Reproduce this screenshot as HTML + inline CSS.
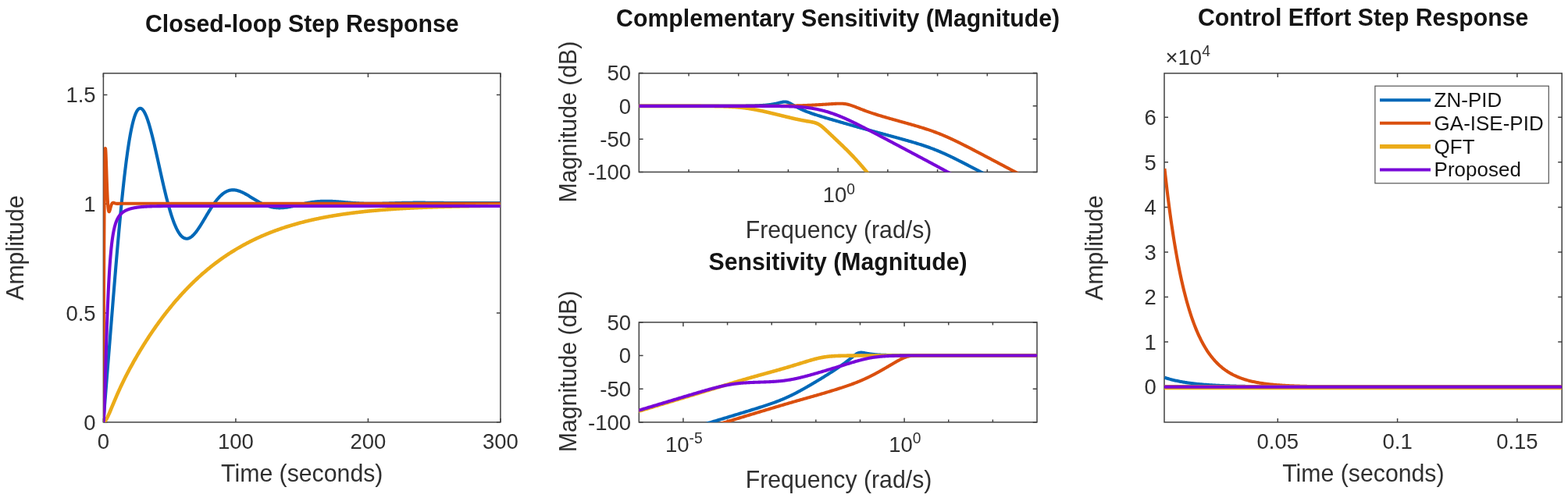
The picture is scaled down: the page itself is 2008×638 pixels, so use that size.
<!DOCTYPE html>
<html><head><meta charset="utf-8"><style>
html,body{margin:0;padding:0;background:#fff;}
svg{display:block;font-family:"Liberation Sans",Arial,Helvetica,sans-serif;}
</style></head><body>
<svg width="2008" height="638" viewBox="0 0 2008 638">
<defs><clipPath id="c1"><rect x="132.4" y="93.9" width="508.5" height="447.0"/></clipPath><clipPath id="c2"><rect x="818.3" y="93.9" width="509.70000000000005" height="126.5"/></clipPath><clipPath id="c3"><rect x="818.3" y="412.9" width="509.70000000000005" height="128.0"/></clipPath><clipPath id="c4"><rect x="1491" y="93.9" width="509.20000000000005" height="447.0"/></clipPath></defs>
<rect width="2008" height="638" fill="#fff"/>
<path d="M132.4 540.9V535.9M132.4 93.9V98.9M301.9 540.9V535.9M301.9 93.9V98.9M471.4 540.9V535.9M471.4 93.9V98.9M640.9 540.9V535.9M640.9 93.9V98.9M132.4 540.8H137.4M640.9 540.8H635.9M132.4 401H137.4M640.9 401H635.9M132.4 261.2H137.4M640.9 261.2H635.9M132.4 121.4H137.4M640.9 121.4H635.9" stroke="#424242" stroke-width="1.5" fill="none"/>
<rect x="132.4" y="93.9" width="508.5" height="447" fill="none" stroke="#424242" stroke-width="1.5"/>
<polyline points="132.4,540.8 132.57,538.5 132.74,536.22 132.91,533.95 133.08,531.7 133.25,529.46 133.42,527.24 133.59,525.03 133.76,522.82 133.93,520.63 134.09,518.45 134.26,516.27 134.43,514.11 134.6,511.95 134.77,509.79 134.94,507.65 135.11,505.5 135.28,503.37 135.45,501.23 135.62,499.11 135.79,496.98 135.96,494.86 136.13,492.74 136.3,490.62 136.47,488.51 136.64,486.4 136.81,484.28 136.98,482.18 137.15,480.07 137.32,477.96 137.49,475.85 137.65,473.75 137.82,471.64 137.99,469.54 138.16,467.43 138.33,465.33 138.5,463.22 138.67,461.12 138.84,459.01 139.01,456.9 139.18,454.8 139.35,452.69 139.52,450.58 139.69,448.48 139.86,446.37 140.03,444.26 140.2,442.15 140.37,440.04 140.54,437.94 140.71,435.83 140.88,433.72 141.04,431.61 141.21,429.5 141.38,427.39 141.55,425.28 141.72,423.16 141.89,421.05 142.06,418.94 142.23,416.83 142.4,414.72 142.57,412.62 142.74,410.51 142.91,408.4 143.08,406.29 143.25,404.18 143.42,402.08 143.59,399.97 143.76,397.87 143.93,395.77 144.1,393.67 144.27,391.57 144.43,389.47 144.6,387.37 144.77,385.28 144.94,383.18 145.11,381.09 145.28,379.01 145.45,376.92 145.62,374.84 145.79,372.75 145.96,370.68 146.13,368.6 146.3,366.53 146.47,364.46 146.64,362.39 146.81,360.33 146.98,358.27 147.15,356.21 147.32,354.16 147.49,352.11 147.66,350.07 147.82,348.03 147.99,345.99 148.16,343.96 148.33,341.94 148.5,339.92 148.67,337.9 148.84,335.89 149.01,333.88 149.18,331.88 149.35,329.88 149.52,327.89 149.69,325.9 149.86,323.92 150.03,321.95 150.2,319.98 150.37,318.02 150.54,316.07 150.71,314.12 150.88,312.17 151.05,310.24 151.21,308.31 151.38,306.39 151.55,304.47 151.72,302.56 151.89,300.66 152.06,298.77 152.23,296.88 152.4,295.01 152.57,293.13 152.74,291.27 152.91,289.42 153.08,287.57 153.25,285.73 153.42,283.9 153.59,282.08 153.76,280.27 153.93,278.46 154.1,276.66 154.27,274.88 154.44,273.1 154.6,271.33 154.77,269.57 154.94,267.82 155.11,266.07 155.28,264.34 155.45,262.62 155.62,260.91 155.79,259.2 155.96,257.51 156.13,255.82 156.3,254.15 156.47,252.49 156.64,250.83 156.81,249.19 156.98,247.55 157.15,245.93 157.32,244.32 157.49,242.72 157.66,241.13 157.83,239.55 157.99,237.98 158.16,236.42 158.33,234.87 158.5,233.33 158.67,231.81 158.84,230.29 159.01,228.79 159.18,227.3 159.35,225.82 159.52,224.35 159.69,222.89 159.86,221.44 160.03,220.01 160.2,218.58 160.37,217.17 160.54,215.77 160.71,214.39 160.88,213.01 161.05,211.65 161.22,210.29 161.38,208.95 161.55,207.63 161.72,206.31 161.89,205.01 162.06,203.72 162.23,202.44 162.4,201.17 162.57,199.92 162.74,198.68 162.91,197.45 163.08,196.23 163.25,195.03 163.42,193.84 163.59,192.66 163.76,191.49 163.93,190.34 164.1,189.2 164.27,188.07 164.44,186.95 164.61,185.85 164.77,184.76 164.94,183.68 165.11,182.62 165.28,181.57 165.45,180.53 165.62,179.5 165.79,178.49 165.96,177.49 166.13,176.5 166.3,175.53 166.47,174.57 166.64,173.62 166.81,172.69 166.98,171.76 167.15,170.85 167.32,169.96 167.49,169.08 167.66,168.21 167.83,167.35 168,166.51 168.16,165.67 168.33,164.86 168.5,164.05 168.67,163.26 168.84,162.48 169.01,161.72 169.18,160.96 169.35,160.22 169.52,159.5 169.69,158.78 169.86,158.08 170.03,157.4 170.2,156.72 170.37,156.06 170.54,155.41 170.71,154.78 170.88,154.15 171.05,153.54 171.22,152.95 171.38,152.36 171.55,151.79 171.72,151.23 171.89,150.68 172.06,150.15 172.23,149.63 172.4,149.12 172.57,148.63 172.74,148.15 172.91,147.68 173.08,147.22 173.25,146.77 173.42,146.34 173.59,145.92 173.76,145.51 173.93,145.12 174.1,144.74 174.27,144.37 174.44,144.01 174.61,143.66 174.78,143.33 174.94,143.01 175.11,142.7 175.28,142.4 175.45,142.12 175.62,141.85 175.79,141.58 175.96,141.34 176.13,141.1 176.3,140.87 176.47,140.66 176.64,140.46 176.81,140.27 176.98,140.09 177.15,139.92 177.32,139.77 177.49,139.63 177.66,139.49 177.83,139.37 178,139.26 178.17,139.17 178.33,139.08 178.5,139 178.67,138.94 178.84,138.88 179.01,138.84 179.18,138.81 179.35,138.79 179.52,138.78 179.69,138.78 179.86,138.79 180.03,138.82 180.2,138.85 180.37,138.89 180.54,138.95 180.71,139.01 180.88,139.09 181.05,139.17 181.22,139.27 181.39,139.37 181.56,139.49 181.72,139.61 181.89,139.75 182.06,139.89 182.23,140.05 182.4,140.21 182.57,140.39 182.74,140.57 182.91,140.76 183.08,140.97 183.25,141.18 184.1,142.38 184.94,143.8 185.79,145.44 186.64,147.28 187.49,149.32 188.34,151.54 189.18,153.94 190.03,156.5 190.88,159.22 191.73,162.08 192.57,165.08 193.42,168.2 194.27,171.44 195.12,174.78 195.96,178.21 196.81,181.73 197.66,185.32 198.5,188.97 199.35,192.68 200.2,196.43 201.05,200.22 201.9,204.03 202.74,207.86 203.59,211.69 204.44,215.53 205.29,219.36 206.13,223.17 206.98,226.95 207.83,230.71 208.68,234.42 209.52,238.09 210.37,241.7 211.22,245.26 212.06,248.75 212.91,252.16 213.76,255.5 214.61,258.76 215.46,261.93 216.3,265.01 217.15,267.99 218,270.88 218.84,273.66 219.69,276.34 220.54,278.9 221.39,281.36 222.24,283.7 223.08,285.93 223.93,288.03 224.78,290.02 225.62,291.89 226.47,293.64 227.32,295.27 228.17,296.78 229.01,298.17 229.86,299.43 230.71,300.58 231.56,301.61 232.41,302.51 233.25,303.31 234.1,303.98 234.95,304.54 235.8,305 236.64,305.34 237.49,305.57 238.34,305.7 239.19,305.73 240.03,305.66 240.88,305.49 241.73,305.23 242.57,304.88 243.42,304.44 244.27,303.91 245.12,303.31 245.97,302.63 246.81,301.88 247.66,301.06 248.51,300.17 249.36,299.22 250.2,298.21 251.05,297.15 251.9,296.04 252.75,294.88 253.59,293.68 254.44,292.44 255.29,291.16 256.13,289.85 256.98,288.51 257.83,287.15 258.68,285.77 259.52,284.38 260.37,282.96 261.22,281.54 262.07,280.11 262.91,278.68 263.76,277.25 264.61,275.82 265.46,274.4 266.31,272.99 267.15,271.58 268,270.2 268.85,268.82 269.69,267.47 270.54,266.14 271.39,264.84 272.24,263.56 273.09,262.31 273.93,261.09 274.78,259.9 275.63,258.74 276.48,257.62 277.32,256.54 278.17,255.5 279.02,254.49 279.87,253.53 280.71,252.6 281.56,251.72 282.41,250.88 283.25,250.09 284.1,249.34 284.95,248.63 285.8,247.97 286.64,247.35 287.49,246.78 288.34,246.26 289.19,245.78 290.03,245.34 290.88,244.95 291.73,244.6 292.58,244.29 293.43,244.03 294.27,243.81 295.12,243.63 295.97,243.5 296.81,243.4 297.66,243.34 298.51,243.32 299.36,243.34 300.21,243.4 301.05,243.48 301.9,243.61 302.75,243.76 303.6,243.95 304.44,244.16 305.29,244.41 306.14,244.68 306.99,244.98 307.83,245.3 308.68,245.65 309.53,246.02 310.38,246.41 311.22,246.82 312.07,247.24 312.92,247.68 313.76,248.14 314.61,248.61 315.46,249.09 316.31,249.58 317.15,250.09 318,250.6 318.85,251.11 319.7,251.63 320.55,252.16 321.39,252.69 322.24,253.22 323.09,253.75 323.94,254.27 324.78,254.8 325.63,255.32 326.48,255.84 327.33,256.36 328.17,256.87 329.02,257.37 329.87,257.86 330.72,258.35 331.56,258.82 332.41,259.29 333.26,259.74 334.11,260.18 334.95,260.61 335.8,261.02 336.65,261.43 337.5,261.82 338.34,262.19 339.19,262.55 340.04,262.89 340.88,263.22 341.73,263.53 342.58,263.83 343.43,264.11 344.27,264.37 345.12,264.62 345.97,264.85 346.82,265.06 347.66,265.25 348.51,265.43 349.36,265.6 350.21,265.74 351.06,265.87 351.9,265.99 352.75,266.08 353.6,266.17 354.44,266.23 355.29,266.28 356.14,266.32 356.99,266.34 357.84,266.35 358.68,266.34 359.53,266.32 360.38,266.29 361.23,266.24 362.07,266.19 362.92,266.12 363.77,266.04 364.62,265.95 365.46,265.84 366.31,265.73 367.16,265.61 368,265.48 368.85,265.35 369.7,265.2 370.55,265.05 371.39,264.89 372.24,264.72 373.09,264.55 373.94,264.38 374.78,264.2 375.63,264.01 376.48,263.83 377.33,263.64 378.18,263.44 379.02,263.25 379.87,263.05 380.72,262.85 381.56,262.65 382.41,262.46 383.26,262.26 384.11,262.06 384.96,261.86 385.8,261.67 386.65,261.48 387.5,261.28 388.35,261.1 389.19,260.91 390.04,260.73 390.89,260.55 391.74,260.38 392.58,260.21 393.43,260.04 394.28,259.88 395.12,259.72 395.97,259.57 396.82,259.42 397.67,259.28 398.51,259.15 399.36,259.02 400.21,258.89 401.06,258.77 401.9,258.66 402.75,258.56 403.6,258.46 404.45,258.36 405.29,258.27 406.14,258.19 406.99,258.12 407.84,258.05 408.69,257.99 409.53,257.93 410.38,257.88 411.23,257.84 412.08,257.8 412.92,257.76 413.77,257.74 414.62,257.72 415.47,257.7 416.31,257.69 417.16,257.69 418.01,257.69 418.86,257.69 419.7,257.7 420.55,257.72 421.4,257.74 422.25,257.76 423.09,257.79 423.94,257.82 424.79,257.86 425.63,257.9 426.48,257.94 427.33,257.99 428.18,258.04 429.02,258.09 429.87,258.15 430.72,258.2 431.57,258.26 432.41,258.33 433.26,258.39 434.11,258.46 434.96,258.52 435.8,258.59 436.65,258.66 437.5,258.73 438.35,258.81 439.2,258.88 440.04,258.95 440.89,259.02 441.74,259.1 442.59,259.17 443.43,259.24 444.28,259.31 445.13,259.39 445.98,259.46 446.82,259.53 447.67,259.6 448.52,259.66 449.37,259.73 450.21,259.8 451.06,259.86 451.91,259.92 452.75,259.99 453.6,260.05 454.45,260.1 455.3,260.16 456.14,260.21 456.99,260.27 457.84,260.32 458.69,260.36 459.53,260.41 460.38,260.45 461.23,260.49 462.08,260.53 462.92,260.57 463.77,260.6 464.62,260.64 465.47,260.67 466.32,260.69 467.16,260.72 468.01,260.74 468.86,260.76 469.71,260.78 470.55,260.8 471.4,260.81 472.25,260.82 473.1,260.83 473.94,260.84 474.79,260.85 475.64,260.85 476.49,260.85 477.33,260.85 478.18,260.85 479.03,260.84 479.88,260.84 480.72,260.83 481.57,260.82 482.42,260.81 483.26,260.8 484.11,260.78 484.96,260.77 485.81,260.75 486.65,260.74 487.5,260.72 488.35,260.7 489.2,260.68 490.04,260.65 490.89,260.63 491.74,260.61 492.59,260.58 493.44,260.56 494.28,260.53 495.13,260.51 495.98,260.48 496.83,260.45 497.67,260.43 498.52,260.4 499.37,260.37 500.22,260.34 501.06,260.32 501.91,260.29 502.76,260.26 503.61,260.23 504.45,260.21 505.3,260.18 506.15,260.15 507,260.13 507.84,260.1 508.69,260.08 509.54,260.05 510.38,260.03 511.23,260 512.08,259.98 512.93,259.96 513.77,259.93 514.62,259.91 515.47,259.89 516.32,259.87 517.16,259.85 518.01,259.83 518.86,259.82 519.71,259.8 520.55,259.78 521.4,259.77 522.25,259.76 523.1,259.74 523.95,259.73 524.79,259.72 525.64,259.71 526.49,259.7 527.34,259.69 528.18,259.68 529.03,259.67 529.88,259.67 530.73,259.66 531.57,259.66 532.42,259.65 533.27,259.65 534.12,259.65 534.96,259.64 535.81,259.64 536.66,259.64 537.5,259.64 538.35,259.64 539.2,259.65 540.05,259.65 540.89,259.65 541.74,259.66 542.59,259.66 543.44,259.66 544.28,259.67 545.13,259.68 545.98,259.68 546.83,259.69 547.67,259.7 548.52,259.7 549.37,259.71 550.22,259.72 551.07,259.73 551.91,259.74 552.76,259.74 553.61,259.75 554.46,259.76 555.3,259.77 556.15,259.78 557,259.79 557.85,259.8 558.69,259.81 559.54,259.82 560.39,259.83 561.24,259.84 562.08,259.85 562.93,259.86 563.78,259.87 564.62,259.88 565.47,259.89 566.32,259.9 567.17,259.91 568.01,259.92 568.86,259.93 569.71,259.94 570.56,259.95 571.4,259.95 572.25,259.96 573.1,259.97 573.95,259.98 574.79,259.99 575.64,259.99 576.49,260 577.34,260.01 578.19,260.01 579.03,260.02 579.88,260.03 580.73,260.03 581.58,260.04 582.42,260.04 583.27,260.04 584.12,260.05 584.97,260.05 585.81,260.06 586.66,260.06 587.51,260.06 588.36,260.07 589.2,260.07 590.05,260.07 590.9,260.07 591.75,260.07 592.59,260.07 593.44,260.07 594.29,260.07 595.13,260.07 595.98,260.07 596.83,260.07 597.68,260.07 598.52,260.07 599.37,260.07 600.22,260.07 601.07,260.07 601.91,260.07 602.76,260.07 603.61,260.06 604.46,260.06 605.3,260.06 606.15,260.06 607,260.05 607.85,260.05 608.7,260.05 609.54,260.04 610.39,260.04 611.24,260.04 612.09,260.03 612.93,260.03 613.78,260.03 614.63,260.02 615.48,260.02 616.32,260.02 617.17,260.01 618.02,260.01 618.87,260 619.71,260 620.56,260 621.41,259.99 622.25,259.99 623.1,259.99 623.95,259.98 624.8,259.98 625.64,259.97 626.49,259.97 627.34,259.97 628.19,259.96 629.03,259.96 629.88,259.96 630.73,259.95 631.58,259.95 632.42,259.95 633.27,259.94 634.12,259.94 634.97,259.94 635.82,259.94 636.66,259.93 637.51,259.93 638.36,259.93 639.21,259.93 640.05,259.92 640.9,259.92" fill="none" stroke="#0068B8" stroke-width="4.1" stroke-linejoin="round" stroke-linecap="butt" clip-path="url(#c1)"/>
<polyline points="132.4,540.8 132.48,511.01 132.57,482.96 132.65,456.6 132.74,431.87 132.82,408.72 132.91,387.09 132.99,366.93 133.08,348.18 133.16,330.8 133.25,314.72 133.33,299.89 133.42,286.27 133.5,273.78 133.59,262.4 133.67,252.05 133.76,242.7 133.84,234.29 133.93,226.78 134.01,220.11 134.09,214.24 134.18,209.13 134.26,204.72 134.35,200.98 134.43,197.86 134.52,195.33 134.6,193.34 134.69,191.85 134.77,190.83 134.86,190.24 134.94,190.04 135.03,190.21 135.11,190.71 135.2,191.52 135.28,192.59 135.37,193.91 135.45,195.44 135.54,197.17 135.62,199.07 135.71,201.11 135.79,203.28 135.87,205.55 135.96,207.9 136.04,210.33 136.13,212.81 136.21,215.32 136.3,217.86 136.38,220.41 136.47,222.95 136.55,225.48 136.64,227.98 136.72,230.45 136.81,232.88 136.89,235.26 136.98,237.59 137.06,239.85 137.15,242.04 137.23,244.17 137.32,246.21 137.4,248.18 137.49,250.07 137.57,251.87 137.65,253.59 137.74,255.22 137.82,256.76 137.91,258.22 137.99,259.59 138.08,260.87 138.16,262.07 138.25,263.18 138.33,264.21 138.42,265.16 138.5,266.03 138.59,266.82 138.67,267.54 138.76,268.18 138.84,268.75 138.93,269.26 139.01,269.7 139.1,270.08 139.18,270.39 139.26,270.65 139.35,270.86 139.43,271.02 139.52,271.12 139.6,271.19 139.69,271.21 139.77,271.19 139.86,271.13 139.94,271.04 140.03,270.92 140.11,270.77 140.2,270.6 140.28,270.4 140.37,270.18 140.45,269.94 140.54,269.68 140.62,269.41 140.71,269.13 140.79,268.83 140.88,268.53 140.96,268.22 141.04,267.9 141.13,267.58 141.21,267.26 141.3,266.93 141.38,266.61 141.47,266.29 141.55,265.97 141.64,265.65 141.72,265.34 141.81,265.03 141.89,264.73 141.98,264.44 142.06,264.15 142.15,263.87 142.23,263.6 142.32,263.34 142.4,263.09 142.49,262.85 142.57,262.61 142.65,262.39 142.74,262.18 142.82,261.97 142.91,261.78 142.99,261.6 143.08,261.42 143.16,261.26 143.25,261.11 143.33,260.97 143.42,260.83 143.5,260.71 143.59,260.59 143.67,260.49 143.76,260.39 143.84,260.3 143.93,260.22 144.01,260.15 144.1,260.08 144.18,260.03 144.27,259.98 144.35,259.93 144.43,259.9 144.52,259.86 144.6,259.84 144.69,259.82 144.77,259.8 144.86,259.79 144.94,259.79 145.03,259.79 145.11,259.79 145.2,259.8 145.28,259.81 145.37,259.82 145.45,259.83 145.54,259.85 145.62,259.87 145.71,259.89 145.79,259.92 145.88,259.94 145.96,259.97 146.04,260 146.13,260.03 146.21,260.06 146.3,260.09 146.38,260.12 146.47,260.15 146.55,260.18 146.64,260.21 146.72,260.25 146.81,260.28 146.89,260.31 146.98,260.34 147.06,260.37 147.15,260.4 147.23,260.43 147.32,260.46 147.4,260.48 147.49,260.51 147.57,260.53 147.66,260.56 147.74,260.58 147.82,260.61 147.91,260.63 147.99,260.65 148.08,260.67 148.16,260.69 148.25,260.71 148.33,260.72 148.42,260.74 148.5,260.75 148.59,260.77 148.67,260.78 148.76,260.79 148.84,260.8 148.93,260.81 149.01,260.82 149.1,260.83 149.18,260.84 149.27,260.85 149.35,260.85 149.43,260.86 149.52,260.86 149.6,260.87 149.69,260.87 149.77,260.87 149.86,260.88 149.94,260.88 150.03,260.88 150.11,260.88 150.2,260.88 150.28,260.88 150.37,260.88 150.45,260.88 150.54,260.88 150.62,260.88 150.71,260.88 150.79,260.87 150.88,260.87 150.96,260.87 151.05,260.87 151.13,260.86 151.21,260.86 151.3,260.86 151.38,260.86 151.47,260.85 151.55,260.85 151.64,260.85 151.72,260.84 151.81,260.84 151.89,260.84 151.98,260.83 152.06,260.83 152.15,260.83 152.23,260.82 152.32,260.82 152.4,260.82 152.49,260.82 152.57,260.81 152.66,260.81 152.74,260.81 152.82,260.81 152.91,260.8 152.99,260.8 153.08,260.8 153.16,260.8 153.25,260.79 153.33,260.79 153.42,260.79 153.5,260.79 153.59,260.79 153.67,260.78 153.76,260.78 153.84,260.78 153.93,260.78 154.01,260.78 154.1,260.78 154.18,260.78 154.27,260.78 154.35,260.78 154.44,260.77 154.52,260.77 154.6,260.77 154.69,260.77 154.77,260.77 154.86,260.77 154.94,260.77 155.03,260.77 155.11,260.77 155.2,260.77 155.28,260.77 155.37,260.77 155.45,260.77 155.54,260.77 155.62,260.77 155.71,260.77 155.79,260.77 155.88,260.77 155.96,260.77 156.05,260.77 156.13,260.77 156.21,260.77 156.3,260.77 156.38,260.77 156.47,260.77 156.55,260.77 156.64,260.77 156.72,260.77 156.81,260.77 156.89,260.77 156.98,260.77 157.06,260.77 157.15,260.77 157.23,260.78 157.32,260.78 157.4,260.78 157.49,260.78 157.57,260.78 157.66,260.78 157.74,260.78 157.83,260.78 157.91,260.78 157.99,260.78 158.08,260.78 158.16,260.78 158.25,260.78 158.33,260.78 158.42,260.78 158.5,260.78 158.59,260.78 158.67,260.78 158.76,260.78 158.84,260.78 158.93,260.78 159.01,260.78 159.1,260.78 159.18,260.78 159.27,260.78 159.35,260.78 159.44,260.78 159.52,260.78 159.6,260.78 159.69,260.78 159.77,260.78 159.86,260.78 159.94,260.78 160.03,260.78 160.11,260.78 160.2,260.78 160.28,260.78 160.37,260.78 160.45,260.78 160.54,260.78 160.62,260.78 160.71,260.78 160.79,260.78 160.88,260.78 160.96,260.78 161.05,260.78 161.13,260.78 161.22,260.78 161.3,260.78 161.38,260.78 161.47,260.78 161.55,260.78 161.64,260.78 161.72,260.78 161.81,260.78 161.89,260.78 161.98,260.78 162.06,260.78 162.15,260.78 162.23,260.78 162.32,260.78 162.4,260.78 162.49,260.78 162.57,260.78 162.66,260.78 162.74,260.78 162.83,260.78 162.91,260.78 162.99,260.78 163.08,260.78 163.16,260.78 163.25,260.78 163.33,260.78 163.42,260.78 163.5,260.78 163.59,260.78 163.67,260.78 163.76,260.78 163.84,260.78 163.93,260.78 164.01,260.78 164.1,260.78 164.18,260.78 164.27,260.78 164.35,260.78 164.44,260.78 164.52,260.78 164.61,260.78 164.69,260.78 164.77,260.78 164.86,260.78 164.94,260.78 165.03,260.78 165.11,260.78 165.2,260.78 165.28,260.78 165.37,260.78 165.45,260.78 165.54,260.78 165.62,260.78 165.71,260.78 165.79,260.78 165.88,260.78 165.96,260.78 166.05,260.78 166.13,260.78 166.22,260.78 166.3,260.78 167.15,260.78 171.93,260.78 176.72,260.78 181.5,260.78 186.29,260.78 191.07,260.78 195.86,260.78 200.65,260.78 205.43,260.78 210.22,260.78 215,260.78 219.79,260.78 224.57,260.78 229.36,260.78 234.14,260.78 238.93,260.78 243.71,260.78 248.5,260.78 253.28,260.78 258.07,260.78 262.86,260.78 267.64,260.78 272.43,260.78 277.21,260.78 282,260.78 286.78,260.78 291.57,260.78 296.35,260.78 301.14,260.78 305.92,260.78 310.71,260.78 315.49,260.78 320.28,260.78 325.06,260.78 329.85,260.78 334.64,260.78 339.42,260.78 344.21,260.78 348.99,260.78 353.78,260.78 358.56,260.78 363.35,260.78 368.13,260.78 372.92,260.78 377.7,260.78 382.49,260.78 387.27,260.78 392.06,260.78 396.85,260.78 401.63,260.78 406.42,260.78 411.2,260.78 415.99,260.78 420.77,260.78 425.56,260.78 430.34,260.78 435.13,260.78 439.91,260.78 444.7,260.78 449.48,260.78 454.27,260.78 459.06,260.78 463.84,260.78 468.63,260.78 473.41,260.78 478.2,260.78 482.98,260.78 487.77,260.78 492.55,260.78 497.34,260.78 502.12,260.78 506.91,260.78 511.69,260.78 516.48,260.78 521.27,260.78 526.05,260.78 530.84,260.78 535.62,260.78 540.41,260.78 545.19,260.78 549.98,260.78 554.76,260.78 559.55,260.78 564.33,260.78 569.12,260.78 573.9,260.78 578.69,260.78 583.48,260.78 588.26,260.78 593.05,260.78 597.83,260.78 602.62,260.78 607.4,260.78 612.19,260.78 616.97,260.78 621.76,260.78 626.54,260.78 631.33,260.78 636.11,260.78 640.9,260.78" fill="none" stroke="#DA4F0E" stroke-width="4.1" stroke-linejoin="round" stroke-linecap="butt" clip-path="url(#c1)"/>
<polyline points="132.4,540.8 133.25,540.57 134.09,539.94 134.94,538.98 135.79,537.76 136.64,536.32 137.49,534.71 138.33,532.97 139.18,531.13 140.03,529.22 140.88,527.25 141.72,525.24 142.57,523.21 143.42,521.17 144.27,519.13 145.11,517.08 145.96,515.05 146.81,513.04 147.66,511.04 148.5,509.05 149.35,507.09 150.2,505.15 151.05,503.24 151.89,501.34 152.74,499.47 153.59,497.62 154.44,495.8 155.28,493.99 156.13,492.21 156.98,490.45 157.83,488.7 158.67,486.98 159.52,485.27 160.37,483.58 161.22,481.91 162.06,480.26 162.91,478.62 163.76,476.99 164.61,475.38 165.45,473.79 166.3,472.21 167.15,470.64 168,469.09 168.84,467.54 169.69,466.01 170.54,464.5 171.38,462.99 172.23,461.5 173.08,460.01 173.93,458.54 174.78,457.08 175.62,455.62 176.47,454.18 177.32,452.75 178.17,451.33 179.01,449.91 179.86,448.51 180.71,447.12 181.56,445.73 182.4,444.36 183.25,442.99 184.1,441.63 184.94,440.29 185.79,438.95 186.64,437.61 187.49,436.29 188.34,434.98 189.18,433.67 190.03,432.38 190.88,431.09 191.73,429.81 192.57,428.53 193.42,427.27 194.27,426.01 195.12,424.77 195.96,423.53 196.81,422.29 197.66,421.07 198.5,419.85 199.35,418.65 200.2,417.45 201.05,416.25 201.9,415.07 202.74,413.89 203.59,412.72 204.44,411.56 205.29,410.4 206.13,409.26 206.98,408.12 207.83,406.99 208.68,405.86 209.52,404.74 210.37,403.63 211.22,402.53 212.06,401.44 212.91,400.35 213.76,399.27 214.61,398.19 215.46,397.13 216.3,396.07 217.15,395.01 218,393.97 218.84,392.93 219.69,391.9 220.54,390.87 221.39,389.85 222.24,388.84 223.08,387.84 223.93,386.84 224.78,385.85 225.62,384.86 226.47,383.89 227.32,382.91 228.17,381.95 229.01,380.99 229.86,380.04 230.71,379.1 231.56,378.16 232.41,377.23 233.25,376.3 234.1,375.38 234.95,374.47 235.8,373.56 236.64,372.66 237.49,371.77 238.34,370.88 239.19,370 240.03,369.12 240.88,368.25 241.73,367.39 242.57,366.53 243.42,365.68 244.27,364.83 245.12,363.99 245.97,363.16 246.81,362.33 247.66,361.51 248.51,360.69 249.36,359.88 250.2,359.08 251.05,358.28 251.9,357.48 252.75,356.7 253.59,355.91 254.44,355.14 255.29,354.37 256.13,353.6 256.98,352.84 257.83,352.09 258.68,351.34 259.52,350.59 260.37,349.85 261.22,349.12 262.07,348.39 262.91,347.67 263.76,346.95 264.61,346.24 265.46,345.54 266.31,344.83 267.15,344.14 268,343.45 268.85,342.76 269.69,342.08 270.54,341.4 271.39,340.73 272.24,340.06 273.09,339.4 273.93,338.75 274.78,338.09 275.63,337.45 276.48,336.81 277.32,336.17 278.17,335.54 279.02,334.91 279.87,334.29 280.71,333.67 281.56,333.05 282.41,332.44 283.25,331.84 284.1,331.24 284.95,330.64 285.8,330.05 286.64,329.47 287.49,328.88 288.34,328.31 289.19,327.73 290.03,327.16 290.88,326.6 291.73,326.04 292.58,325.48 293.43,324.93 294.27,324.39 295.12,323.84 295.97,323.3 296.81,322.77 297.66,322.24 298.51,321.71 299.36,321.19 300.21,320.67 301.05,320.15 301.9,319.64 302.75,319.14 303.6,318.64 304.44,318.14 305.29,317.64 306.14,317.15 306.99,316.66 307.83,316.18 308.68,315.7 309.53,315.23 310.38,314.75 311.22,314.29 312.07,313.82 312.92,313.36 313.76,312.9 314.61,312.45 315.46,312 316.31,311.55 317.15,311.11 318,310.67 318.85,310.24 319.7,309.8 320.55,309.37 321.39,308.95 322.24,308.53 323.09,308.11 323.94,307.69 324.78,307.28 325.63,306.87 326.48,306.47 327.33,306.07 328.17,305.67 329.02,305.27 329.87,304.88 330.72,304.49 331.56,304.11 332.41,303.72 333.26,303.34 334.11,302.97 334.95,302.59 335.8,302.22 336.65,301.86 337.5,301.49 338.34,301.13 339.19,300.77 340.04,300.42 340.88,300.07 341.73,299.72 342.58,299.37 343.43,299.03 344.27,298.69 345.12,298.35 345.97,298.01 346.82,297.68 347.66,297.35 348.51,297.03 349.36,296.7 350.21,296.38 351.06,296.06 351.9,295.75 352.75,295.43 353.6,295.12 354.44,294.81 355.29,294.51 356.14,294.21 356.99,293.91 357.84,293.61 358.68,293.31 359.53,293.02 360.38,292.73 361.23,292.44 362.07,292.16 362.92,291.88 363.77,291.6 364.62,291.32 365.46,291.04 366.31,290.77 367.16,290.5 368,290.23 368.85,289.97 369.7,289.7 370.55,289.44 371.39,289.18 372.24,288.92 373.09,288.67 373.94,288.42 374.78,288.17 375.63,287.92 376.48,287.67 377.33,287.43 378.18,287.19 379.02,286.95 379.87,286.71 380.72,286.48 381.56,286.24 382.41,286.01 383.26,285.78 384.11,285.56 384.96,285.33 385.8,285.11 386.65,284.89 387.5,284.67 388.35,284.45 389.19,284.24 390.04,284.02 390.89,283.81 391.74,283.6 392.58,283.39 393.43,283.19 394.28,282.99 395.12,282.78 395.97,282.58 396.82,282.38 397.67,282.19 398.51,281.99 399.36,281.8 400.21,281.61 401.06,281.42 401.9,281.23 402.75,281.05 403.6,280.86 404.45,280.68 405.29,280.5 406.14,280.32 406.99,280.14 407.84,279.96 408.69,279.79 409.53,279.62 410.38,279.44 411.23,279.27 412.08,279.11 412.92,278.94 413.77,278.77 414.62,278.61 415.47,278.45 416.31,278.29 417.16,278.13 418.01,277.97 418.86,277.82 419.7,277.66 420.55,277.51 421.4,277.36 422.25,277.21 423.09,277.06 423.94,276.91 424.79,276.76 425.63,276.62 426.48,276.47 427.33,276.33 428.18,276.19 429.02,276.05 429.87,275.91 430.72,275.78 431.57,275.64 432.41,275.51 433.26,275.37 434.11,275.24 434.96,275.11 435.8,274.98 436.65,274.85 437.5,274.73 438.35,274.6 439.2,274.48 440.04,274.35 440.89,274.23 441.74,274.11 442.59,273.99 443.43,273.87 444.28,273.76 445.13,273.64 445.98,273.53 446.82,273.41 447.67,273.3 448.52,273.19 449.37,273.08 450.21,272.97 451.06,272.86 451.91,272.75 452.75,272.64 453.6,272.54 454.45,272.43 455.3,272.33 456.14,272.23 456.99,272.13 457.84,272.03 458.69,271.93 459.53,271.83 460.38,271.73 461.23,271.63 462.08,271.54 462.92,271.44 463.77,271.35 464.62,271.26 465.47,271.17 466.32,271.08 467.16,270.99 468.01,270.9 468.86,270.81 469.71,270.72 470.55,270.63 471.4,270.55 472.25,270.46 473.1,270.38 473.94,270.3 474.79,270.21 475.64,270.13 476.49,270.05 477.33,269.97 478.18,269.89 479.03,269.82 479.88,269.74 480.72,269.66 481.57,269.59 482.42,269.51 483.26,269.44 484.11,269.36 484.96,269.29 485.81,269.22 486.65,269.15 487.5,269.08 488.35,269.01 489.2,268.94 490.04,268.87 490.89,268.8 491.74,268.73 492.59,268.67 493.44,268.6 494.28,268.54 495.13,268.47 495.98,268.41 496.83,268.34 497.67,268.28 498.52,268.22 499.37,268.16 500.22,268.1 501.06,268.04 501.91,267.98 502.76,267.92 503.61,267.86 504.45,267.81 505.3,267.75 506.15,267.69 507,267.64 507.84,267.58 508.69,267.53 509.54,267.47 510.38,267.42 511.23,267.37 512.08,267.32 512.93,267.26 513.77,267.21 514.62,267.16 515.47,267.11 516.32,267.06 517.16,267.01 518.01,266.96 518.86,266.92 519.71,266.87 520.55,266.82 521.4,266.78 522.25,266.73 523.1,266.68 523.95,266.64 524.79,266.59 525.64,266.55 526.49,266.51 527.34,266.46 528.18,266.42 529.03,266.38 529.88,266.34 530.73,266.3 531.57,266.25 532.42,266.21 533.27,266.17 534.12,266.13 534.96,266.1 535.81,266.06 536.66,266.02 537.5,265.98 538.35,265.94 539.2,265.91 540.05,265.87 540.89,265.83 541.74,265.8 542.59,265.76 543.44,265.73 544.28,265.69 545.13,265.66 545.98,265.62 546.83,265.59 547.67,265.56 548.52,265.52 549.37,265.49 550.22,265.46 551.07,265.43 551.91,265.4 552.76,265.37 553.61,265.33 554.46,265.3 555.3,265.27 556.15,265.24 557,265.22 557.85,265.19 558.69,265.16 559.54,265.13 560.39,265.1 561.24,265.07 562.08,265.05 562.93,265.02 563.78,264.99 564.62,264.96 565.47,264.94 566.32,264.91 567.17,264.89 568.01,264.86 568.86,264.84 569.71,264.81 570.56,264.79 571.4,264.76 572.25,264.74 573.1,264.71 573.95,264.69 574.79,264.67 575.64,264.64 576.49,264.62 577.34,264.6 578.19,264.58 579.03,264.56 579.88,264.53 580.73,264.51 581.58,264.49 582.42,264.47 583.27,264.45 584.12,264.43 584.97,264.41 585.81,264.39 586.66,264.37 587.51,264.35 588.36,264.33 589.2,264.31 590.05,264.29 590.9,264.27 591.75,264.25 592.59,264.24 593.44,264.22 594.29,264.2 595.13,264.18 595.98,264.17 596.83,264.15 597.68,264.13 598.52,264.11 599.37,264.1 600.22,264.08 601.07,264.07 601.91,264.05 602.76,264.03 603.61,264.02 604.46,264 605.3,263.99 606.15,263.97 607,263.96 607.85,263.94 608.7,263.93 609.54,263.91 610.39,263.9 611.24,263.88 612.09,263.87 612.93,263.86 613.78,263.84 614.63,263.83 615.48,263.82 616.32,263.8 617.17,263.79 618.02,263.78 618.87,263.76 619.71,263.75 620.56,263.74 621.41,263.73 622.25,263.72 623.1,263.7 623.95,263.69 624.8,263.68 625.64,263.67 626.49,263.66 627.34,263.65 628.19,263.63 629.03,263.62 629.88,263.61 630.73,263.6 631.58,263.59 632.42,263.58 633.27,263.57 634.12,263.56 634.97,263.55 635.82,263.54 636.66,263.53 637.51,263.52 638.36,263.51 639.21,263.5 640.05,263.49 640.9,263.48" fill="none" stroke="#EBAB18" stroke-width="4.6" stroke-linejoin="round" stroke-linecap="butt" clip-path="url(#c1)"/>
<polyline points="132.4,540.8 132.57,540.32 132.74,538.95 132.91,536.81 133.08,534.02 133.25,530.65 133.42,526.8 133.59,522.54 133.76,517.93 133.93,513.05 134.09,507.93 134.26,502.64 134.43,497.2 134.6,491.66 134.77,486.05 134.94,480.41 135.11,474.74 135.28,469.09 135.45,463.46 135.62,457.88 135.79,452.36 135.96,446.9 136.13,441.53 136.3,436.25 136.47,431.07 136.64,426 136.81,421.03 136.98,416.18 137.15,411.44 137.32,406.82 137.49,402.33 137.65,397.95 137.82,393.7 137.99,389.57 138.16,385.56 138.33,381.67 138.5,377.9 138.67,374.24 138.84,370.7 139.01,367.27 139.18,363.96 139.35,360.75 139.52,357.65 139.69,354.65 139.86,351.76 140.03,348.96 140.2,346.26 140.37,343.65 140.54,341.13 140.71,338.7 140.88,336.35 141.04,334.09 141.21,331.91 141.38,329.8 141.55,327.77 141.72,325.81 141.89,323.92 142.06,322.1 142.23,320.34 142.4,318.65 142.57,317.02 142.74,315.44 142.91,313.92 143.08,312.46 143.25,311.05 143.42,309.69 143.59,308.37 143.76,307.11 143.93,305.88 144.1,304.71 144.27,303.57 144.43,302.47 144.6,301.42 144.77,300.39 144.94,299.41 145.11,298.46 145.28,297.54 145.45,296.66 145.62,295.8 145.79,294.97 145.96,294.18 146.13,293.41 146.3,292.66 146.47,291.94 146.64,291.25 146.81,290.58 146.98,289.93 147.15,289.3 147.32,288.69 147.49,288.1 147.66,287.53 147.82,286.98 147.99,286.45 148.16,285.94 148.33,285.44 148.5,284.95 148.67,284.48 148.84,284.03 149.01,283.59 149.18,283.16 149.35,282.75 149.52,282.35 149.69,281.96 149.86,281.58 150.03,281.21 150.2,280.86 150.37,280.51 150.54,280.18 150.71,279.85 150.88,279.53 151.05,279.23 151.21,278.93 151.38,278.63 151.55,278.35 151.72,278.08 151.89,277.81 152.06,277.55 152.23,277.29 152.4,277.04 152.57,276.8 152.74,276.57 152.91,276.34 153.08,276.12 153.25,275.9 153.42,275.68 153.59,275.48 153.76,275.28 153.93,275.08 154.1,274.89 154.27,274.7 154.44,274.51 154.6,274.33 154.77,274.16 154.94,273.99 155.11,273.82 155.28,273.66 155.45,273.5 155.62,273.34 155.79,273.19 155.96,273.04 156.13,272.89 156.3,272.75 156.47,272.61 156.64,272.47 156.81,272.33 156.98,272.2 157.15,272.07 157.32,271.94 157.49,271.82 157.66,271.7 157.83,271.58 157.99,271.46 158.16,271.35 158.33,271.23 158.5,271.12 158.67,271.01 158.84,270.91 159.01,270.8 159.18,270.7 159.35,270.6 159.52,270.5 159.69,270.4 159.86,270.31 160.03,270.21 160.2,270.12 160.37,270.03 160.54,269.94 160.71,269.86 160.88,269.77 161.05,269.69 161.22,269.6 161.38,269.52 161.55,269.44 161.72,269.36 161.89,269.28 162.06,269.21 162.23,269.13 162.4,269.06 162.57,268.99 162.74,268.92 162.91,268.84 163.08,268.78 163.25,268.71 163.42,268.64 163.59,268.57 163.76,268.51 163.93,268.45 164.1,268.38 164.27,268.32 164.44,268.26 164.61,268.2 164.77,268.14 164.94,268.08 165.11,268.02 165.28,267.97 165.45,267.91 165.62,267.86 165.79,267.8 165.96,267.75 166.13,267.7 166.3,267.65 166.47,267.6 166.64,267.54 166.81,267.5 166.98,267.45 167.15,267.4 167.32,267.35 167.49,267.3 167.66,267.26 167.83,267.21 168,267.17 168.16,267.12 168.33,267.08 168.5,267.04 168.67,267 168.84,266.96 169.01,266.91 169.18,266.87 169.35,266.83 169.52,266.79 169.69,266.76 169.86,266.72 170.03,266.68 170.2,266.64 170.37,266.61 170.54,266.57 170.71,266.53 170.88,266.5 171.05,266.47 171.22,266.43 171.38,266.4 171.55,266.36 171.72,266.33 171.89,266.3 172.06,266.27 172.23,266.24 172.4,266.21 172.57,266.17 172.74,266.14 172.91,266.11 173.08,266.09 173.25,266.06 173.42,266.03 173.59,266 173.76,265.97 173.93,265.95 174.1,265.92 174.27,265.89 174.44,265.87 174.61,265.84 174.78,265.81 174.94,265.79 175.11,265.76 175.28,265.74 175.45,265.72 175.62,265.69 175.79,265.67 175.96,265.64 176.13,265.62 176.3,265.6 176.47,265.58 176.64,265.56 176.81,265.53 176.98,265.51 177.15,265.49 177.32,265.47 177.49,265.45 177.66,265.43 177.83,265.41 178,265.39 178.17,265.37 178.33,265.35 178.5,265.33 178.67,265.31 178.84,265.29 179.01,265.28 179.18,265.26 179.35,265.24 179.52,265.22 179.69,265.21 179.86,265.19 180.03,265.17 180.2,265.16 180.37,265.14 180.54,265.12 180.71,265.11 180.88,265.09 181.05,265.08 181.22,265.06 181.39,265.05 181.56,265.03 181.72,265.02 181.89,265 182.06,264.99 182.23,264.97 182.4,264.96 182.57,264.95 182.74,264.93 182.91,264.92 183.08,264.91 183.25,264.89 183.42,264.88 183.59,264.87 183.76,264.86 183.93,264.84 184.1,264.83 184.27,264.82 184.44,264.81 184.61,264.8 184.78,264.78 184.94,264.77 185.11,264.76 185.28,264.75 185.45,264.74 185.62,264.73 185.79,264.72 185.96,264.71 186.13,264.7 186.3,264.69 186.47,264.68 186.64,264.67 186.81,264.66 186.98,264.65 187.15,264.64 187.32,264.63 187.49,264.62 187.66,264.61 187.83,264.6 188,264.59 188.17,264.58 188.34,264.57 188.5,264.57 188.67,264.56 188.84,264.55 189.01,264.54 189.18,264.53 189.35,264.53 189.52,264.52 189.69,264.51 189.86,264.5 190.03,264.49 190.2,264.49 190.37,264.48 190.54,264.47 190.71,264.46 190.88,264.46 191.05,264.45 191.22,264.44 191.39,264.44 191.56,264.43 191.73,264.42 191.89,264.42 192.06,264.41 192.23,264.4 192.4,264.4 192.57,264.39 192.74,264.39 192.91,264.38 193.08,264.37 193.25,264.37 193.42,264.36 193.59,264.36 193.76,264.35 193.93,264.34 194.1,264.34 194.27,264.33 194.44,264.33 194.61,264.32 194.78,264.32 194.95,264.31 195.12,264.31 195.28,264.3 195.45,264.3 195.62,264.29 195.79,264.29 195.96,264.28 196.13,264.28 196.3,264.27 196.47,264.27 196.64,264.26 196.81,264.26 196.98,264.26 197.15,264.25 197.32,264.25 197.49,264.24 197.66,264.24 197.83,264.23 198,264.23 198.17,264.23 198.34,264.22 198.5,264.22 198.67,264.22 198.84,264.21 199.01,264.21 199.18,264.2 199.35,264.2 199.52,264.2 199.69,264.19 199.86,264.19 200.03,264.19 200.2,264.18 201.05,264.17 205.49,264.1 209.93,264.05 214.38,264.01 218.82,263.99 223.26,263.97 227.71,263.96 232.15,263.95 236.59,263.94 241.03,263.94 245.48,263.94 249.92,263.93 254.36,263.93 258.81,263.93 263.25,263.93 267.69,263.93 272.13,263.93 276.58,263.93 281.02,263.93 285.46,263.93 289.91,263.93 294.35,263.93 298.79,263.93 303.24,263.93 307.68,263.93 312.12,263.93 316.56,263.93 321.01,263.93 325.45,263.93 329.89,263.93 334.34,263.93 338.78,263.93 343.22,263.93 347.66,263.93 352.11,263.93 356.55,263.93 360.99,263.93 365.44,263.93 369.88,263.93 374.32,263.93 378.77,263.93 383.21,263.93 387.65,263.93 392.09,263.93 396.54,263.93 400.98,263.93 405.42,263.93 409.87,263.93 414.31,263.93 418.75,263.93 423.2,263.93 427.64,263.93 432.08,263.93 436.52,263.93 440.97,263.93 445.41,263.93 449.85,263.93 454.3,263.93 458.74,263.93 463.18,263.93 467.62,263.93 472.07,263.93 476.51,263.93 480.95,263.93 485.4,263.93 489.84,263.93 494.28,263.93 498.73,263.93 503.17,263.93 507.61,263.93 512.05,263.93 516.5,263.93 520.94,263.93 525.38,263.93 529.83,263.93 534.27,263.93 538.71,263.93 543.15,263.93 547.6,263.93 552.04,263.93 556.48,263.93 560.93,263.93 565.37,263.93 569.81,263.93 574.26,263.93 578.7,263.93 583.14,263.93 587.58,263.93 592.03,263.93 596.47,263.93 600.91,263.93 605.36,263.93 609.8,263.93 614.24,263.93 618.69,263.93 623.13,263.93 627.57,263.93 632.01,263.93 636.46,263.93 640.9,263.93" fill="none" stroke="#7808D8" stroke-width="4.1" stroke-linejoin="round" stroke-linecap="butt" clip-path="url(#c1)"/>
<text transform="translate(122.6 550.55) scale(1 1.025)" font-size="27.5" text-anchor="end" fill="#303030">0</text>
<text transform="translate(122.6 410.75) scale(1 1.025)" font-size="27.5" text-anchor="end" fill="#303030">0.5</text>
<text transform="translate(122.6 270.95) scale(1 1.025)" font-size="27.5" text-anchor="end" fill="#303030">1</text>
<text transform="translate(122.6 131.15) scale(1 1.025)" font-size="27.5" text-anchor="end" fill="#303030">1.5</text>
<text transform="translate(132.4 575.4) scale(1 1.025)" font-size="27.5" text-anchor="middle" fill="#303030">0</text>
<text transform="translate(301.9 575.4) scale(1 1.025)" font-size="27.5" text-anchor="middle" fill="#303030">100</text>
<text transform="translate(471.4 575.4) scale(1 1.025)" font-size="27.5" text-anchor="middle" fill="#303030">200</text>
<text transform="translate(640.9 575.4) scale(1 1.025)" font-size="27.5" text-anchor="middle" fill="#303030">300</text>
<text transform="translate(386.75 41.2) scale(1 1.025)" font-size="30.25" text-anchor="middle" font-weight="bold" fill="#141414">Closed-loop Step Response</text>
<text transform="translate(386.75 617.4) scale(1 1.025)" font-size="30.25" text-anchor="middle" fill="#303030">Time (seconds)</text>
<text transform="translate(30.1 317.5) rotate(-90) scale(1 1.025)" font-size="30.25" text-anchor="middle" fill="#303030">Amplitude</text>
<path d="M1073.15 220.4V215.1M1073.15 93.9V99.2M882.01 220.4V216.9M882.01 93.9V97.4M945.72 220.4V216.9M945.72 93.9V97.4M1009.44 220.4V216.9M1009.44 93.9V97.4M1136.86 220.4V216.9M1136.86 93.9V97.4M1200.58 220.4V216.9M1200.58 93.9V97.4M1264.29 220.4V216.9M1264.29 93.9V97.4M818.3 93.6H823.6M1328 93.6H1322.7M818.3 135.87H823.6M1328 135.87H1322.7M818.3 178.13H823.6M1328 178.13H1322.7M818.3 220.4H823.6M1328 220.4H1322.7" stroke="#424242" stroke-width="1.5" fill="none"/>
<rect x="818.3" y="93.9" width="509.7" height="126.5" fill="none" stroke="#424242" stroke-width="1.5"/>
<text transform="translate(808.1 103.35) scale(1 1.025)" font-size="27.5" text-anchor="end" fill="#303030">50</text>
<text transform="translate(808.1 145.62) scale(1 1.025)" font-size="27.5" text-anchor="end" fill="#303030">0</text>
<text transform="translate(808.1 187.88) scale(1 1.025)" font-size="27.5" text-anchor="end" fill="#303030">-50</text>
<text transform="translate(808.1 230.15) scale(1 1.025)" font-size="27.5" text-anchor="end" fill="#303030">-100</text>
<path d="M874.93 540.9V535.6M874.93 412.9V418.2M1158.1 540.9V535.6M1158.1 412.9V418.2M931.57 540.9V537.4M931.57 412.9V416.4M988.2 540.9V537.4M988.2 412.9V416.4M1044.83 540.9V537.4M1044.83 412.9V416.4M1101.47 540.9V537.4M1101.47 412.9V416.4M1214.73 540.9V537.4M1214.73 412.9V416.4M1271.37 540.9V537.4M1271.37 412.9V416.4M818.3 412.9H823.6M1328 412.9H1322.7M818.3 455.57H823.6M1328 455.57H1322.7M818.3 498.23H823.6M1328 498.23H1322.7M818.3 540.9H823.6M1328 540.9H1322.7" stroke="#424242" stroke-width="1.5" fill="none"/>
<rect x="818.3" y="412.9" width="509.7" height="128" fill="none" stroke="#424242" stroke-width="1.5"/>
<text transform="translate(808.1 422.65) scale(1 1.025)" font-size="27.5" text-anchor="end" fill="#303030">50</text>
<text transform="translate(808.1 465.32) scale(1 1.025)" font-size="27.5" text-anchor="end" fill="#303030">0</text>
<text transform="translate(808.1 507.98) scale(1 1.025)" font-size="27.5" text-anchor="end" fill="#303030">-50</text>
<text transform="translate(808.1 550.65) scale(1 1.025)" font-size="27.5" text-anchor="end" fill="#303030">-100</text>
<polyline points="818.3,135.87 819.03,135.87 819.76,135.87 820.49,135.87 821.22,135.87 821.95,135.87 822.68,135.87 823.4,135.87 824.13,135.87 824.86,135.87 825.59,135.87 826.32,135.87 827.05,135.87 827.78,135.87 828.51,135.87 829.24,135.87 829.97,135.87 830.7,135.87 831.43,135.87 832.15,135.87 832.88,135.87 833.61,135.87 834.34,135.87 835.07,135.87 835.8,135.87 836.53,135.87 837.26,135.87 837.99,135.87 838.72,135.87 839.45,135.87 840.18,135.87 840.9,135.87 841.63,135.87 842.36,135.87 843.09,135.87 843.82,135.87 844.55,135.87 845.28,135.87 846.01,135.87 846.74,135.87 847.47,135.87 848.2,135.87 848.93,135.87 849.65,135.87 850.38,135.87 851.11,135.87 851.84,135.87 852.57,135.87 853.3,135.87 854.03,135.87 854.76,135.87 855.49,135.87 856.22,135.87 856.95,135.87 857.68,135.87 858.41,135.87 859.13,135.87 859.86,135.87 860.59,135.87 861.32,135.87 862.05,135.87 862.78,135.87 863.51,135.87 864.24,135.87 864.97,135.87 865.7,135.87 866.43,135.87 867.16,135.87 867.88,135.87 868.61,135.87 869.34,135.87 870.07,135.87 870.8,135.87 871.53,135.87 872.26,135.87 872.99,135.87 873.72,135.87 874.45,135.87 875.18,135.87 875.91,135.87 876.63,135.87 877.36,135.87 878.09,135.87 878.82,135.87 879.55,135.87 880.28,135.87 881.01,135.87 881.74,135.87 882.47,135.87 883.2,135.87 883.93,135.87 884.66,135.87 885.38,135.87 886.11,135.87 886.84,135.87 887.57,135.87 888.3,135.87 889.03,135.87 889.76,135.86 890.49,135.86 891.22,135.86 891.95,135.86 892.68,135.86 893.41,135.86 894.14,135.86 894.86,135.86 895.59,135.86 896.32,135.86 897.05,135.86 897.78,135.86 898.51,135.86 899.24,135.86 899.97,135.86 900.7,135.86 901.43,135.86 902.16,135.86 902.89,135.86 903.61,135.86 904.34,135.86 905.07,135.86 905.8,135.86 906.53,135.86 907.26,135.86 907.99,135.86 908.72,135.86 909.45,135.86 910.18,135.86 910.91,135.86 911.64,135.86 912.36,135.86 913.09,135.86 913.82,135.86 914.55,135.86 915.28,135.86 916.01,135.86 916.74,135.85 917.47,135.85 918.2,135.85 918.93,135.85 919.66,135.85 920.39,135.85 921.12,135.85 921.84,135.85 922.57,135.85 923.3,135.85 924.03,135.85 924.76,135.85 925.49,135.84 926.22,135.84 926.95,135.84 927.68,135.84 928.41,135.84 929.14,135.84 929.87,135.84 930.59,135.83 931.32,135.83 932.05,135.83 932.78,135.83 933.51,135.83 934.24,135.82 934.97,135.82 935.7,135.82 936.43,135.82 937.16,135.81 937.89,135.81 938.62,135.81 939.34,135.8 940.07,135.8 940.8,135.8 941.53,135.79 942.26,135.79 942.99,135.79 943.72,135.78 944.45,135.78 945.18,135.77 945.91,135.77 946.64,135.76 947.37,135.76 948.09,135.75 948.82,135.74 949.55,135.74 950.28,135.73 951.01,135.72 951.74,135.71 952.47,135.71 953.2,135.7 953.93,135.69 954.66,135.68 955.39,135.67 956.12,135.66 956.85,135.65 957.57,135.63 958.3,135.62 959.03,135.61 959.76,135.6 960.49,135.58 961.22,135.56 961.95,135.55 962.68,135.53 963.41,135.51 964.14,135.49 964.87,135.47 965.6,135.45 966.32,135.43 967.05,135.41 967.78,135.38 968.51,135.35 969.24,135.33 969.97,135.3 970.7,135.27 971.43,135.23 972.16,135.2 972.89,135.16 973.62,135.13 974.35,135.09 975.07,135.04 975.8,135 976.53,134.95 977.26,134.9 977.99,134.85 978.72,134.79 979.45,134.73 980.18,134.67 980.91,134.61 981.64,134.54 982.37,134.47 983.1,134.39 983.82,134.31 984.55,134.23 985.28,134.14 986.01,134.05 986.74,133.95 987.47,133.84 988.2,133.74 988.93,133.62 989.66,133.5 990.39,133.37 991.12,133.24 991.85,133.1 992.58,132.96 993.3,132.81 994.03,132.65 994.76,132.49 995.49,132.32 996.22,132.15 996.95,131.97 997.68,131.79 998.41,131.6 999.14,131.42 999.87,131.24 1000.6,131.07 1001.33,130.91 1002.05,130.76 1002.78,130.63 1003.51,130.53 1004.24,130.47 1004.97,130.44 1005.7,130.46 1006.43,130.52 1007.16,130.64 1007.89,130.8 1008.62,131.02 1009.35,131.28 1010.08,131.58 1010.8,131.91 1011.53,132.27 1012.26,132.66 1012.99,133.06 1013.72,133.47 1014.45,133.88 1015.18,134.3 1015.91,134.72 1016.64,135.14 1017.37,135.56 1018.1,135.97 1018.83,136.37 1019.55,136.77 1020.28,137.16 1021.01,137.54 1021.74,137.92 1022.47,138.29 1023.2,138.65 1023.93,139.01 1024.66,139.36 1025.39,139.7 1026.12,140.04 1026.85,140.37 1027.58,140.69 1028.31,141.01 1029.03,141.32 1029.76,141.63 1030.49,141.93 1031.22,142.22 1031.95,142.52 1032.68,142.8 1033.41,143.09 1034.14,143.36 1034.87,143.64 1035.6,143.91 1036.33,144.18 1037.06,144.44 1037.78,144.7 1038.51,144.96 1039.24,145.21 1039.97,145.47 1040.7,145.71 1041.43,145.96 1042.16,146.2 1042.89,146.45 1043.62,146.69 1044.35,146.92 1045.08,147.16 1045.81,147.39 1046.53,147.63 1047.26,147.86 1047.99,148.09 1048.72,148.31 1049.45,148.54 1050.18,148.76 1050.91,148.99 1051.64,149.21 1052.37,149.43 1053.1,149.65 1053.83,149.87 1054.56,150.09 1055.28,150.31 1056.01,150.52 1056.74,150.74 1057.47,150.96 1058.2,151.17 1058.93,151.38 1059.66,151.6 1060.39,151.81 1061.12,152.03 1061.85,152.24 1062.58,152.45 1063.31,152.66 1064.04,152.87 1064.76,153.08 1065.49,153.3 1066.22,153.51 1066.95,153.72 1067.68,153.93 1068.41,154.14 1069.14,154.35 1069.87,154.56 1070.6,154.77 1071.33,154.98 1072.06,155.19 1072.79,155.4 1073.51,155.61 1074.24,155.82 1074.97,156.03 1075.7,156.24 1076.43,156.45 1077.16,156.66 1077.89,156.87 1078.62,157.08 1079.35,157.29 1080.08,157.5 1080.81,157.71 1081.54,157.92 1082.26,158.13 1082.99,158.34 1083.72,158.55 1084.45,158.76 1085.18,158.96 1085.91,159.17 1086.64,159.38 1087.37,159.59 1088.1,159.8 1088.83,160.01 1089.56,160.22 1090.29,160.42 1091.02,160.63 1091.74,160.84 1092.47,161.05 1093.2,161.25 1093.93,161.46 1094.66,161.67 1095.39,161.88 1096.12,162.08 1096.85,162.29 1097.58,162.49 1098.31,162.7 1099.04,162.9 1099.77,163.11 1100.49,163.31 1101.22,163.52 1101.95,163.72 1102.68,163.92 1103.41,164.13 1104.14,164.33 1104.87,164.53 1105.6,164.74 1106.33,164.94 1107.06,165.14 1107.79,165.34 1108.52,165.54 1109.24,165.74 1109.97,165.94 1110.7,166.14 1111.43,166.35 1112.16,166.55 1112.89,166.75 1113.62,166.94 1114.35,167.14 1115.08,167.34 1115.81,167.54 1116.54,167.74 1117.27,167.94 1117.99,168.14 1118.72,168.34 1119.45,168.54 1120.18,168.73 1120.91,168.93 1121.64,169.13 1122.37,169.33 1123.1,169.52 1123.83,169.72 1124.56,169.92 1125.29,170.12 1126.02,170.31 1126.75,170.51 1127.47,170.71 1128.2,170.9 1128.93,171.1 1129.66,171.3 1130.39,171.5 1131.12,171.69 1131.85,171.89 1132.58,172.09 1133.31,172.28 1134.04,172.48 1134.77,172.68 1135.5,172.87 1136.22,173.07 1136.95,173.27 1137.68,173.47 1138.41,173.66 1139.14,173.86 1139.87,174.06 1140.6,174.25 1141.33,174.45 1142.06,174.65 1142.79,174.85 1143.52,175.05 1144.25,175.24 1144.97,175.44 1145.7,175.64 1146.43,175.84 1147.16,176.04 1147.89,176.24 1148.62,176.44 1149.35,176.64 1150.08,176.84 1150.81,177.04 1151.54,177.24 1152.27,177.44 1153,177.64 1153.72,177.84 1154.45,178.04 1155.18,178.24 1155.91,178.45 1156.64,178.65 1157.37,178.85 1158.1,179.06 1158.83,179.26 1159.56,179.46 1160.29,179.67 1161.02,179.88 1161.75,180.08 1162.48,180.29 1163.2,180.5 1163.93,180.71 1164.66,180.92 1165.39,181.13 1166.12,181.34 1166.85,181.55 1167.58,181.76 1168.31,181.97 1169.04,182.19 1169.77,182.4 1170.5,182.62 1171.23,182.84 1171.95,183.06 1172.68,183.28 1173.41,183.5 1174.14,183.72 1174.87,183.94 1175.6,184.17 1176.33,184.4 1177.06,184.62 1177.79,184.85 1178.52,185.08 1179.25,185.32 1179.98,185.55 1180.7,185.79 1181.43,186.03 1182.16,186.27 1182.89,186.51 1183.62,186.75 1184.35,187 1185.08,187.24 1185.81,187.49 1186.54,187.74 1187.27,188 1188,188.25 1188.73,188.51 1189.45,188.77 1190.18,189.04 1190.91,189.3 1191.64,189.57 1192.37,189.84 1193.1,190.11 1193.83,190.39 1194.56,190.66 1195.29,190.94 1196.02,191.23 1196.75,191.51 1197.48,191.8 1198.21,192.09 1198.93,192.38 1199.66,192.68 1200.39,192.97 1201.12,193.27 1201.85,193.58 1202.58,193.88 1203.31,194.19 1204.04,194.5 1204.77,194.81 1205.5,195.13 1206.23,195.44 1206.96,195.76 1207.68,196.09 1208.41,196.41 1209.14,196.74 1209.87,197.07 1210.6,197.4 1211.33,197.73 1212.06,198.06 1212.79,198.4 1213.52,198.74 1214.25,199.08 1214.98,199.42 1215.71,199.77 1216.43,200.11 1217.16,200.46 1217.89,200.81 1218.62,201.16 1219.35,201.51 1220.08,201.87 1220.81,202.22 1221.54,202.58 1222.27,202.94 1223,203.3 1223.73,203.66 1224.46,204.02 1225.18,204.38 1225.91,204.75 1226.64,205.11 1227.37,205.48 1228.1,205.84 1228.83,206.21 1229.56,206.58 1230.29,206.95 1231.02,207.32 1231.75,207.69 1232.48,208.06 1233.21,208.44 1233.94,208.81 1234.66,209.18 1235.39,209.56 1236.12,209.93 1236.85,210.31 1237.58,210.68 1238.31,211.06 1239.04,211.44 1239.77,211.82 1240.5,212.2 1241.23,212.57 1241.96,212.95 1242.69,213.33 1243.41,213.71 1244.14,214.09 1244.87,214.47 1245.6,214.85 1246.33,215.24 1247.06,215.62 1247.79,216 1248.52,216.38 1249.25,216.76 1249.98,217.15 1250.71,217.53 1251.44,217.91 1252.16,218.29 1252.89,218.68 1253.62,219.06 1254.35,219.44 1255.08,219.83 1255.81,220.21 1256.54,220.6 1257.27,220.98 1258,221.37 1258.73,221.75 1259.46,222.13 1260.19,222.52 1260.92,222.9 1261.64,223.29 1262.37,223.67 1263.1,224.06 1263.83,224.45 1264.56,224.83 1265.29,225.22 1266.02,225.6 1266.75,225.99 1267.48,226.37 1268.21,226.76 1268.94,227.14 1269.67,227.53 1270.39,227.92 1271.12,228.3 1271.85,228.69 1272.58,229.07 1273.31,229.46 1274.04,229.85 1274.77,230.23 1275.5,230.62 1276.23,231.01 1276.96,231.39 1277.69,231.78 1278.42,232.16 1279.14,232.55 1279.87,232.94 1280.6,233.32 1281.33,233.71 1282.06,234.1 1282.79,234.48 1283.52,234.87 1284.25,235.26 1284.98,235.64 1285.71,236.03 1286.44,236.42 1287.17,236.8 1287.89,237.19 1288.62,237.58 1289.35,237.96 1290.08,238.35 1290.81,238.74 1291.54,239.12 1292.27,239.51 1293,239.9 1293.73,240.28 1294.46,240.67 1295.19,241.06 1295.92,241.44 1296.65,241.83 1297.37,242.22 1298.1,242.61 1298.83,242.99 1299.56,243.38 1300.29,243.77 1301.02,244.15 1301.75,244.54 1302.48,244.93 1303.21,245.31 1303.94,245.7 1304.67,246.09 1305.4,246.47 1306.12,246.86 1306.85,247.25 1307.58,247.63 1308.31,248.02 1309.04,248.41 1309.77,248.8 1310.5,249.18 1311.23,249.57 1311.96,249.96 1312.69,250.34 1313.42,250.73 1314.15,251.12 1314.87,251.5 1315.6,251.89 1316.33,252.28 1317.06,252.66 1317.79,253.05 1318.52,253.44 1319.25,253.83 1319.98,254.21 1320.71,254.6 1321.44,254.99 1322.17,255.37 1322.9,255.76 1323.62,256.15 1324.35,256.53 1325.08,256.92 1325.81,257.31 1326.54,257.7 1327.27,258.08 1328,258.47" fill="none" stroke="#0068B8" stroke-width="4.1" stroke-linejoin="round" stroke-linecap="butt" clip-path="url(#c2)"/>
<polyline points="818.3,135.87 819.03,135.87 819.76,135.87 820.49,135.87 821.22,135.87 821.95,135.87 822.68,135.87 823.4,135.87 824.13,135.87 824.86,135.87 825.59,135.87 826.32,135.87 827.05,135.87 827.78,135.87 828.51,135.87 829.24,135.87 829.97,135.87 830.7,135.87 831.43,135.87 832.15,135.87 832.88,135.87 833.61,135.87 834.34,135.87 835.07,135.87 835.8,135.87 836.53,135.87 837.26,135.87 837.99,135.87 838.72,135.87 839.45,135.87 840.18,135.87 840.9,135.87 841.63,135.87 842.36,135.87 843.09,135.87 843.82,135.87 844.55,135.87 845.28,135.87 846.01,135.87 846.74,135.87 847.47,135.87 848.2,135.87 848.93,135.87 849.65,135.87 850.38,135.87 851.11,135.87 851.84,135.87 852.57,135.87 853.3,135.87 854.03,135.87 854.76,135.87 855.49,135.87 856.22,135.87 856.95,135.87 857.68,135.87 858.41,135.87 859.13,135.87 859.86,135.87 860.59,135.87 861.32,135.87 862.05,135.87 862.78,135.87 863.51,135.87 864.24,135.87 864.97,135.87 865.7,135.87 866.43,135.87 867.16,135.87 867.88,135.87 868.61,135.87 869.34,135.87 870.07,135.87 870.8,135.87 871.53,135.87 872.26,135.87 872.99,135.87 873.72,135.87 874.45,135.87 875.18,135.87 875.91,135.87 876.63,135.87 877.36,135.87 878.09,135.87 878.82,135.87 879.55,135.87 880.28,135.87 881.01,135.87 881.74,135.87 882.47,135.87 883.2,135.87 883.93,135.87 884.66,135.87 885.38,135.87 886.11,135.87 886.84,135.87 887.57,135.87 888.3,135.87 889.03,135.87 889.76,135.87 890.49,135.87 891.22,135.87 891.95,135.87 892.68,135.87 893.41,135.87 894.14,135.87 894.86,135.87 895.59,135.87 896.32,135.87 897.05,135.87 897.78,135.87 898.51,135.87 899.24,135.87 899.97,135.87 900.7,135.87 901.43,135.87 902.16,135.87 902.89,135.87 903.61,135.87 904.34,135.87 905.07,135.87 905.8,135.87 906.53,135.87 907.26,135.87 907.99,135.87 908.72,135.87 909.45,135.87 910.18,135.87 910.91,135.87 911.64,135.87 912.36,135.87 913.09,135.87 913.82,135.87 914.55,135.87 915.28,135.87 916.01,135.87 916.74,135.87 917.47,135.87 918.2,135.87 918.93,135.87 919.66,135.87 920.39,135.87 921.12,135.87 921.84,135.87 922.57,135.87 923.3,135.87 924.03,135.87 924.76,135.87 925.49,135.87 926.22,135.87 926.95,135.87 927.68,135.87 928.41,135.87 929.14,135.87 929.87,135.87 930.59,135.87 931.32,135.87 932.05,135.87 932.78,135.87 933.51,135.87 934.24,135.87 934.97,135.87 935.7,135.87 936.43,135.87 937.16,135.87 937.89,135.87 938.62,135.87 939.34,135.87 940.07,135.87 940.8,135.86 941.53,135.86 942.26,135.86 942.99,135.86 943.72,135.86 944.45,135.86 945.18,135.86 945.91,135.86 946.64,135.86 947.37,135.86 948.09,135.86 948.82,135.86 949.55,135.86 950.28,135.86 951.01,135.86 951.74,135.86 952.47,135.86 953.2,135.86 953.93,135.86 954.66,135.86 955.39,135.86 956.12,135.86 956.85,135.86 957.57,135.86 958.3,135.86 959.03,135.86 959.76,135.86 960.49,135.86 961.22,135.86 961.95,135.86 962.68,135.86 963.41,135.86 964.14,135.86 964.87,135.86 965.6,135.86 966.32,135.86 967.05,135.86 967.78,135.85 968.51,135.85 969.24,135.85 969.97,135.85 970.7,135.85 971.43,135.85 972.16,135.85 972.89,135.85 973.62,135.85 974.35,135.85 975.07,135.85 975.8,135.85 976.53,135.84 977.26,135.84 977.99,135.84 978.72,135.84 979.45,135.84 980.18,135.84 980.91,135.84 981.64,135.83 982.37,135.83 983.1,135.83 983.82,135.83 984.55,135.83 985.28,135.82 986.01,135.82 986.74,135.82 987.47,135.82 988.2,135.81 988.93,135.81 989.66,135.81 990.39,135.81 991.12,135.8 991.85,135.8 992.58,135.8 993.3,135.79 994.03,135.79 994.76,135.78 995.49,135.78 996.22,135.78 996.95,135.77 997.68,135.77 998.41,135.76 999.14,135.75 999.87,135.75 1000.6,135.74 1001.33,135.74 1002.05,135.73 1002.78,135.72 1003.51,135.72 1004.24,135.71 1004.97,135.7 1005.7,135.69 1006.43,135.68 1007.16,135.67 1007.89,135.66 1008.62,135.65 1009.35,135.64 1010.08,135.63 1010.8,135.62 1011.53,135.61 1012.26,135.6 1012.99,135.58 1013.72,135.57 1014.45,135.56 1015.18,135.54 1015.91,135.53 1016.64,135.51 1017.37,135.49 1018.1,135.48 1018.83,135.46 1019.55,135.44 1020.28,135.42 1021.01,135.4 1021.74,135.38 1022.47,135.36 1023.2,135.34 1023.93,135.31 1024.66,135.29 1025.39,135.27 1026.12,135.24 1026.85,135.22 1027.58,135.19 1028.31,135.16 1029.03,135.13 1029.76,135.11 1030.49,135.08 1031.22,135.05 1031.95,135.02 1032.68,134.99 1033.41,134.95 1034.14,134.92 1034.87,134.89 1035.6,134.85 1036.33,134.82 1037.06,134.78 1037.78,134.75 1038.51,134.71 1039.24,134.68 1039.97,134.64 1040.7,134.6 1041.43,134.56 1042.16,134.52 1042.89,134.49 1043.62,134.45 1044.35,134.41 1045.08,134.37 1045.81,134.33 1046.53,134.29 1047.26,134.24 1047.99,134.2 1048.72,134.16 1049.45,134.12 1050.18,134.08 1050.91,134.03 1051.64,133.99 1052.37,133.95 1053.1,133.9 1053.83,133.86 1054.56,133.82 1055.28,133.77 1056.01,133.73 1056.74,133.68 1057.47,133.63 1058.2,133.59 1058.93,133.54 1059.66,133.5 1060.39,133.45 1061.12,133.4 1061.85,133.36 1062.58,133.31 1063.31,133.26 1064.04,133.22 1064.76,133.17 1065.49,133.12 1066.22,133.08 1066.95,133.03 1067.68,132.99 1068.41,132.95 1069.14,132.91 1069.87,132.87 1070.6,132.83 1071.33,132.8 1072.06,132.77 1072.79,132.74 1073.51,132.72 1074.24,132.7 1074.97,132.69 1075.7,132.69 1076.43,132.69 1077.16,132.7 1077.89,132.72 1078.62,132.76 1079.35,132.8 1080.08,132.86 1080.81,132.92 1081.54,133.01 1082.26,133.1 1082.99,133.21 1083.72,133.34 1084.45,133.48 1085.18,133.63 1085.91,133.8 1086.64,133.98 1087.37,134.18 1088.1,134.39 1088.83,134.61 1089.56,134.84 1090.29,135.08 1091.02,135.33 1091.74,135.59 1092.47,135.85 1093.2,136.12 1093.93,136.4 1094.66,136.68 1095.39,136.96 1096.12,137.25 1096.85,137.54 1097.58,137.83 1098.31,138.12 1099.04,138.41 1099.77,138.7 1100.49,138.99 1101.22,139.27 1101.95,139.56 1102.68,139.85 1103.41,140.13 1104.14,140.41 1104.87,140.69 1105.6,140.97 1106.33,141.25 1107.06,141.52 1107.79,141.8 1108.52,142.06 1109.24,142.33 1109.97,142.6 1110.7,142.86 1111.43,143.12 1112.16,143.38 1112.89,143.63 1113.62,143.88 1114.35,144.14 1115.08,144.38 1115.81,144.63 1116.54,144.87 1117.27,145.12 1117.99,145.36 1118.72,145.6 1119.45,145.83 1120.18,146.07 1120.91,146.3 1121.64,146.53 1122.37,146.76 1123.1,146.99 1123.83,147.22 1124.56,147.44 1125.29,147.67 1126.02,147.89 1126.75,148.11 1127.47,148.33 1128.2,148.55 1128.93,148.77 1129.66,148.99 1130.39,149.2 1131.12,149.42 1131.85,149.63 1132.58,149.84 1133.31,150.06 1134.04,150.27 1134.77,150.48 1135.5,150.69 1136.22,150.9 1136.95,151.11 1137.68,151.31 1138.41,151.52 1139.14,151.73 1139.87,151.94 1140.6,152.14 1141.33,152.35 1142.06,152.55 1142.79,152.76 1143.52,152.96 1144.25,153.17 1144.97,153.37 1145.7,153.58 1146.43,153.78 1147.16,153.98 1147.89,154.19 1148.62,154.39 1149.35,154.59 1150.08,154.8 1150.81,155 1151.54,155.2 1152.27,155.4 1153,155.61 1153.72,155.81 1154.45,156.01 1155.18,156.22 1155.91,156.42 1156.64,156.62 1157.37,156.83 1158.1,157.03 1158.83,157.23 1159.56,157.44 1160.29,157.64 1161.02,157.85 1161.75,158.05 1162.48,158.26 1163.2,158.46 1163.93,158.67 1164.66,158.87 1165.39,159.08 1166.12,159.29 1166.85,159.49 1167.58,159.7 1168.31,159.91 1169.04,160.12 1169.77,160.33 1170.5,160.54 1171.23,160.75 1171.95,160.97 1172.68,161.18 1173.41,161.39 1174.14,161.61 1174.87,161.82 1175.6,162.04 1176.33,162.26 1177.06,162.48 1177.79,162.7 1178.52,162.92 1179.25,163.14 1179.98,163.37 1180.7,163.59 1181.43,163.82 1182.16,164.05 1182.89,164.27 1183.62,164.51 1184.35,164.74 1185.08,164.97 1185.81,165.21 1186.54,165.44 1187.27,165.68 1188,165.92 1188.73,166.17 1189.45,166.41 1190.18,166.66 1190.91,166.91 1191.64,167.16 1192.37,167.41 1193.1,167.67 1193.83,167.92 1194.56,168.18 1195.29,168.45 1196.02,168.71 1196.75,168.98 1197.48,169.25 1198.21,169.52 1198.93,169.79 1199.66,170.07 1200.39,170.35 1201.12,170.63 1201.85,170.91 1202.58,171.2 1203.31,171.49 1204.04,171.78 1204.77,172.07 1205.5,172.37 1206.23,172.67 1206.96,172.97 1207.68,173.27 1208.41,173.58 1209.14,173.89 1209.87,174.2 1210.6,174.52 1211.33,174.83 1212.06,175.15 1212.79,175.47 1213.52,175.8 1214.25,176.12 1214.98,176.45 1215.71,176.78 1216.43,177.11 1217.16,177.44 1217.89,177.78 1218.62,178.12 1219.35,178.46 1220.08,178.8 1220.81,179.14 1221.54,179.49 1222.27,179.84 1223,180.18 1223.73,180.53 1224.46,180.89 1225.18,181.24 1225.91,181.59 1226.64,181.95 1227.37,182.31 1228.1,182.67 1228.83,183.03 1229.56,183.39 1230.29,183.75 1231.02,184.11 1231.75,184.48 1232.48,184.84 1233.21,185.21 1233.94,185.58 1234.66,185.95 1235.39,186.32 1236.12,186.69 1236.85,187.06 1237.58,187.43 1238.31,187.8 1239.04,188.17 1239.77,188.55 1240.5,188.92 1241.23,189.3 1241.96,189.67 1242.69,190.05 1243.41,190.42 1244.14,190.8 1244.87,191.18 1245.6,191.56 1246.33,191.94 1247.06,192.31 1247.79,192.69 1248.52,193.07 1249.25,193.45 1249.98,193.83 1250.71,194.22 1251.44,194.6 1252.16,194.98 1252.89,195.36 1253.62,195.74 1254.35,196.12 1255.08,196.51 1255.81,196.89 1256.54,197.27 1257.27,197.65 1258,198.04 1258.73,198.42 1259.46,198.8 1260.19,199.19 1260.92,199.57 1261.64,199.96 1262.37,200.34 1263.1,200.72 1263.83,201.11 1264.56,201.49 1265.29,201.88 1266.02,202.26 1266.75,202.65 1267.48,203.03 1268.21,203.42 1268.94,203.8 1269.67,204.19 1270.39,204.58 1271.12,204.96 1271.85,205.35 1272.58,205.73 1273.31,206.12 1274.04,206.5 1274.77,206.89 1275.5,207.28 1276.23,207.66 1276.96,208.05 1277.69,208.43 1278.42,208.82 1279.14,209.21 1279.87,209.59 1280.6,209.98 1281.33,210.36 1282.06,210.75 1282.79,211.14 1283.52,211.52 1284.25,211.91 1284.98,212.3 1285.71,212.68 1286.44,213.07 1287.17,213.46 1287.89,213.84 1288.62,214.23 1289.35,214.62 1290.08,215 1290.81,215.39 1291.54,215.78 1292.27,216.16 1293,216.55 1293.73,216.94 1294.46,217.32 1295.19,217.71 1295.92,218.1 1296.65,218.48 1297.37,218.87 1298.1,219.26 1298.83,219.64 1299.56,220.03 1300.29,220.42 1301.02,220.8 1301.75,221.19 1302.48,221.58 1303.21,221.96 1303.94,222.35 1304.67,222.74 1305.4,223.12 1306.12,223.51 1306.85,223.9 1307.58,224.28 1308.31,224.67 1309.04,225.06 1309.77,225.45 1310.5,225.83 1311.23,226.22 1311.96,226.61 1312.69,226.99 1313.42,227.38 1314.15,227.77 1314.87,228.15 1315.6,228.54 1316.33,228.93 1317.06,229.31 1317.79,229.7 1318.52,230.09 1319.25,230.48 1319.98,230.86 1320.71,231.25 1321.44,231.64 1322.17,232.02 1322.9,232.41 1323.62,232.8 1324.35,233.18 1325.08,233.57 1325.81,233.96 1326.54,234.35 1327.27,234.73 1328,235.12" fill="none" stroke="#DA4F0E" stroke-width="4.1" stroke-linejoin="round" stroke-linecap="butt" clip-path="url(#c2)"/>
<polyline points="818.3,135.87 819.03,135.87 819.76,135.87 820.49,135.87 821.22,135.87 821.95,135.87 822.68,135.87 823.4,135.87 824.13,135.87 824.86,135.87 825.59,135.87 826.32,135.87 827.05,135.87 827.78,135.87 828.51,135.87 829.24,135.87 829.97,135.87 830.7,135.87 831.43,135.87 832.15,135.87 832.88,135.87 833.61,135.87 834.34,135.87 835.07,135.87 835.8,135.87 836.53,135.87 837.26,135.87 837.99,135.87 838.72,135.87 839.45,135.87 840.18,135.87 840.9,135.87 841.63,135.87 842.36,135.87 843.09,135.87 843.82,135.87 844.55,135.87 845.28,135.87 846.01,135.87 846.74,135.87 847.47,135.87 848.2,135.87 848.93,135.87 849.65,135.87 850.38,135.87 851.11,135.87 851.84,135.87 852.57,135.87 853.3,135.87 854.03,135.87 854.76,135.87 855.49,135.87 856.22,135.87 856.95,135.87 857.68,135.87 858.41,135.87 859.13,135.87 859.86,135.87 860.59,135.87 861.32,135.87 862.05,135.87 862.78,135.87 863.51,135.87 864.24,135.87 864.97,135.87 865.7,135.87 866.43,135.87 867.16,135.87 867.88,135.87 868.61,135.87 869.34,135.87 870.07,135.87 870.8,135.88 871.53,135.88 872.26,135.88 872.99,135.88 873.72,135.88 874.45,135.88 875.18,135.88 875.91,135.88 876.63,135.88 877.36,135.88 878.09,135.88 878.82,135.88 879.55,135.88 880.28,135.88 881.01,135.88 881.74,135.89 882.47,135.89 883.2,135.89 883.93,135.89 884.66,135.89 885.38,135.89 886.11,135.89 886.84,135.89 887.57,135.9 888.3,135.9 889.03,135.9 889.76,135.9 890.49,135.9 891.22,135.9 891.95,135.91 892.68,135.91 893.41,135.91 894.14,135.91 894.86,135.92 895.59,135.92 896.32,135.92 897.05,135.92 897.78,135.93 898.51,135.93 899.24,135.93 899.97,135.94 900.7,135.94 901.43,135.94 902.16,135.95 902.89,135.95 903.61,135.96 904.34,135.96 905.07,135.97 905.8,135.97 906.53,135.98 907.26,135.99 907.99,135.99 908.72,136 909.45,136.01 910.18,136.01 910.91,136.02 911.64,136.03 912.36,136.04 913.09,136.05 913.82,136.06 914.55,136.07 915.28,136.08 916.01,136.09 916.74,136.1 917.47,136.11 918.2,136.12 918.93,136.14 919.66,136.15 920.39,136.17 921.12,136.18 921.84,136.2 922.57,136.21 923.3,136.23 924.03,136.25 924.76,136.27 925.49,136.29 926.22,136.31 926.95,136.33 927.68,136.36 928.41,136.38 929.14,136.41 929.87,136.44 930.59,136.47 931.32,136.49 932.05,136.53 932.78,136.56 933.51,136.59 934.24,136.63 934.97,136.66 935.7,136.7 936.43,136.74 937.16,136.79 937.89,136.83 938.62,136.88 939.34,136.92 940.07,136.97 940.8,137.02 941.53,137.08 942.26,137.13 942.99,137.19 943.72,137.25 944.45,137.31 945.18,137.37 945.91,137.44 946.64,137.51 947.37,137.58 948.09,137.65 948.82,137.73 949.55,137.81 950.28,137.89 951.01,137.97 951.74,138.06 952.47,138.14 953.2,138.23 953.93,138.33 954.66,138.42 955.39,138.52 956.12,138.62 956.85,138.73 957.57,138.83 958.3,138.94 959.03,139.05 959.76,139.16 960.49,139.28 961.22,139.4 961.95,139.52 962.68,139.64 963.41,139.77 964.14,139.89 964.87,140.02 965.6,140.15 966.32,140.29 967.05,140.42 967.78,140.56 968.51,140.7 969.24,140.84 969.97,140.99 970.7,141.13 971.43,141.28 972.16,141.43 972.89,141.58 973.62,141.73 974.35,141.89 975.07,142.04 975.8,142.2 976.53,142.36 977.26,142.52 977.99,142.68 978.72,142.84 979.45,143.01 980.18,143.17 980.91,143.34 981.64,143.51 982.37,143.67 983.1,143.84 983.82,144.01 984.55,144.18 985.28,144.35 986.01,144.53 986.74,144.7 987.47,144.87 988.2,145.05 988.93,145.22 989.66,145.4 990.39,145.57 991.12,145.75 991.85,145.93 992.58,146.1 993.3,146.28 994.03,146.46 994.76,146.64 995.49,146.81 996.22,146.99 996.95,147.17 997.68,147.35 998.41,147.53 999.14,147.71 999.87,147.89 1000.6,148.06 1001.33,148.24 1002.05,148.42 1002.78,148.6 1003.51,148.78 1004.24,148.96 1004.97,149.13 1005.7,149.31 1006.43,149.49 1007.16,149.66 1007.89,149.84 1008.62,150.01 1009.35,150.19 1010.08,150.36 1010.8,150.54 1011.53,150.71 1012.26,150.88 1012.99,151.05 1013.72,151.22 1014.45,151.39 1015.18,151.56 1015.91,151.73 1016.64,151.89 1017.37,152.06 1018.1,152.22 1018.83,152.38 1019.55,152.54 1020.28,152.7 1021.01,152.86 1021.74,153.02 1022.47,153.17 1023.2,153.32 1023.93,153.47 1024.66,153.62 1025.39,153.77 1026.12,153.91 1026.85,154.06 1027.58,154.2 1028.31,154.33 1029.03,154.47 1029.76,154.6 1030.49,154.73 1031.22,154.86 1031.95,154.99 1032.68,155.12 1033.41,155.24 1034.14,155.36 1034.87,155.48 1035.6,155.61 1036.33,155.73 1037.06,155.85 1037.78,155.97 1038.51,156.1 1039.24,156.24 1039.97,156.37 1040.7,156.52 1041.43,156.68 1042.16,156.85 1042.89,157.04 1043.62,157.24 1044.35,157.47 1045.08,157.72 1045.81,158 1046.53,158.31 1047.26,158.66 1047.99,159.04 1048.72,159.45 1049.45,159.9 1050.18,160.38 1050.91,160.89 1051.64,161.43 1052.37,161.99 1053.1,162.58 1053.83,163.19 1054.56,163.82 1055.28,164.46 1056.01,165.11 1056.74,165.78 1057.47,166.45 1058.2,167.13 1058.93,167.81 1059.66,168.49 1060.39,169.18 1061.12,169.87 1061.85,170.56 1062.58,171.25 1063.31,171.94 1064.04,172.63 1064.76,173.32 1065.49,174.01 1066.22,174.7 1066.95,175.39 1067.68,176.08 1068.41,176.77 1069.14,177.45 1069.87,178.14 1070.6,178.83 1071.33,179.52 1072.06,180.21 1072.79,180.9 1073.51,181.59 1074.24,182.29 1074.97,182.98 1075.7,183.68 1076.43,184.37 1077.16,185.07 1077.89,185.77 1078.62,186.47 1079.35,187.18 1080.08,187.89 1080.81,188.6 1081.54,189.31 1082.26,190.02 1082.99,190.74 1083.72,191.46 1084.45,192.19 1085.18,192.92 1085.91,193.65 1086.64,194.38 1087.37,195.12 1088.1,195.87 1088.83,196.62 1089.56,197.37 1090.29,198.12 1091.02,198.88 1091.74,199.65 1092.47,200.42 1093.2,201.19 1093.93,201.97 1094.66,202.75 1095.39,203.54 1096.12,204.33 1096.85,205.13 1097.58,205.93 1098.31,206.74 1099.04,207.55 1099.77,208.36 1100.49,209.18 1101.22,210.01 1101.95,210.84 1102.68,211.67 1103.41,212.51 1104.14,213.35 1104.87,214.2 1105.6,215.05 1106.33,215.9 1107.06,216.76 1107.79,217.62 1108.52,218.49 1109.24,219.36 1109.97,220.23 1110.7,221.11 1111.43,221.99 1112.16,222.88 1112.89,223.76 1113.62,224.66 1114.35,225.55 1115.08,226.45 1115.81,227.35 1116.54,228.25 1117.27,229.16 1117.99,230.07 1118.72,230.98 1119.45,231.89 1120.18,232.81 1120.91,233.72 1121.64,234.64 1122.37,235.57 1123.1,236.49 1123.83,237.42 1124.56,238.35 1125.29,239.28 1126.02,240.21 1126.75,241.14 1127.47,242.08 1128.2,243.01 1128.93,243.95 1129.66,244.89 1130.39,245.83 1131.12,246.77 1131.85,247.72 1132.58,248.66 1133.31,249.61 1134.04,250.55 1134.77,251.5 1135.5,252.45 1136.22,253.4 1136.95,254.35 1137.68,255.3 1138.41,256.25 1139.14,257.21 1139.87,258.16 1140.6,259.11 1141.33,260.07 1142.06,261.02 1142.79,261.98 1143.52,262.94 1144.25,263.89 1144.97,264.85 1145.7,265.81 1146.43,266.77 1147.16,267.73 1147.89,268.69 1148.62,269.65 1149.35,270.61 1150.08,271.57 1150.81,272.53 1151.54,273.49 1152.27,274.45 1153,275.42 1153.72,276.38 1154.45,277.34 1155.18,278.3 1155.91,279.27 1156.64,280.23 1157.37,281.19 1158.1,282.16 1158.83,283.12 1159.56,284.08 1160.29,285.05 1161.02,286.01 1161.75,286.98 1162.48,287.94 1163.2,288.91 1163.93,289.87 1164.66,290.84 1165.39,291.8 1166.12,292.77 1166.85,293.73 1167.58,294.7 1168.31,295.66 1169.04,296.63 1169.77,297.6 1170.5,298.56 1171.23,299.53 1171.95,300.49 1172.68,301.46 1173.41,302.43 1174.14,303.39 1174.87,304.36 1175.6,305.32 1176.33,306.29 1177.06,307.26 1177.79,308.22 1178.52,309.19 1179.25,310.16 1179.98,311.12 1180.7,312.09 1181.43,313.06 1182.16,314.02 1182.89,314.99 1183.62,315.96 1184.35,316.92 1185.08,317.89 1185.81,318.86 1186.54,319.83 1187.27,320.79 1188,321.76 1188.73,322.73 1189.45,323.69 1190.18,324.66 1190.91,325.63 1191.64,326.6 1192.37,327.56 1193.1,328.53 1193.83,329.5 1194.56,330.46 1195.29,331.43 1196.02,332.4 1196.75,333.37 1197.48,334.33 1198.21,335.3 1198.93,336.27 1199.66,337.23 1200.39,338.2 1201.12,339.17 1201.85,340.14 1202.58,341.1 1203.31,342.07 1204.04,343.04 1204.77,344.01 1205.5,344.97 1206.23,345.94 1206.96,346.91 1207.68,347.88 1208.41,348.84 1209.14,349.81 1209.87,350.78 1210.6,351.74 1211.33,352.71 1212.06,353.68 1212.79,354.65 1213.52,355.61 1214.25,356.58 1214.98,357.55 1215.71,358.52 1216.43,359.48 1217.16,360.45 1217.89,361.42 1218.62,362.39 1219.35,363.35 1220.08,364.32 1220.81,365.29 1221.54,366.26 1222.27,367.22 1223,368.19 1223.73,369.16 1224.46,370.13 1225.18,371.09 1225.91,372.06 1226.64,373.03 1227.37,374 1228.1,374.96 1228.83,375.93 1229.56,376.9 1230.29,377.86 1231.02,378.83 1231.75,379.8 1232.48,380.77 1233.21,381.73 1233.94,382.7 1234.66,383.67 1235.39,384.64 1236.12,385.6 1236.85,386.57 1237.58,387.54 1238.31,388.51 1239.04,389.47 1239.77,390.44 1240.5,391.41 1241.23,392.38 1241.96,393.34 1242.69,394.31 1243.41,395.28 1244.14,396.25 1244.87,397.21 1245.6,398.18 1246.33,399.15 1247.06,400 1247.79,400 1248.52,400 1249.25,400 1249.98,400 1250.71,400 1251.44,400 1252.16,400 1252.89,400 1253.62,400 1254.35,400 1255.08,400 1255.81,400 1256.54,400 1257.27,400 1258,400 1258.73,400 1259.46,400 1260.19,400 1260.92,400 1261.64,400 1262.37,400 1263.1,400 1263.83,400 1264.56,400 1265.29,400 1266.02,400 1266.75,400 1267.48,400 1268.21,400 1268.94,400 1269.67,400 1270.39,400 1271.12,400 1271.85,400 1272.58,400 1273.31,400 1274.04,400 1274.77,400 1275.5,400 1276.23,400 1276.96,400 1277.69,400 1278.42,400 1279.14,400 1279.87,400 1280.6,400 1281.33,400 1282.06,400 1282.79,400 1283.52,400 1284.25,400 1284.98,400 1285.71,400 1286.44,400 1287.17,400 1287.89,400 1288.62,400 1289.35,400 1290.08,400 1290.81,400 1291.54,400 1292.27,400 1293,400 1293.73,400 1294.46,400 1295.19,400 1295.92,400 1296.65,400 1297.37,400 1298.1,400 1298.83,400 1299.56,400 1300.29,400 1301.02,400 1301.75,400 1302.48,400 1303.21,400 1303.94,400 1304.67,400 1305.4,400 1306.12,400 1306.85,400 1307.58,400 1308.31,400 1309.04,400 1309.77,400 1310.5,400 1311.23,400 1311.96,400 1312.69,400 1313.42,400 1314.15,400 1314.87,400 1315.6,400 1316.33,400 1317.06,400 1317.79,400 1318.52,400 1319.25,400 1319.98,400 1320.71,400 1321.44,400 1322.17,400 1322.9,400 1323.62,400 1324.35,400 1325.08,400 1325.81,400 1326.54,400 1327.27,400 1328,400" fill="none" stroke="#EBAB18" stroke-width="4.6" stroke-linejoin="round" stroke-linecap="butt" clip-path="url(#c2)"/>
<polyline points="818.3,135.87 819.03,135.87 819.76,135.87 820.49,135.87 821.22,135.87 821.95,135.87 822.68,135.87 823.4,135.87 824.13,135.87 824.86,135.87 825.59,135.87 826.32,135.87 827.05,135.87 827.78,135.87 828.51,135.87 829.24,135.87 829.97,135.87 830.7,135.87 831.43,135.87 832.15,135.87 832.88,135.87 833.61,135.87 834.34,135.87 835.07,135.87 835.8,135.87 836.53,135.87 837.26,135.87 837.99,135.87 838.72,135.87 839.45,135.87 840.18,135.87 840.9,135.87 841.63,135.87 842.36,135.87 843.09,135.87 843.82,135.87 844.55,135.87 845.28,135.87 846.01,135.87 846.74,135.87 847.47,135.87 848.2,135.87 848.93,135.87 849.65,135.87 850.38,135.87 851.11,135.87 851.84,135.87 852.57,135.87 853.3,135.87 854.03,135.87 854.76,135.87 855.49,135.87 856.22,135.87 856.95,135.87 857.68,135.87 858.41,135.87 859.13,135.87 859.86,135.87 860.59,135.87 861.32,135.87 862.05,135.87 862.78,135.87 863.51,135.87 864.24,135.87 864.97,135.87 865.7,135.87 866.43,135.87 867.16,135.87 867.88,135.87 868.61,135.87 869.34,135.87 870.07,135.87 870.8,135.87 871.53,135.87 872.26,135.87 872.99,135.87 873.72,135.87 874.45,135.87 875.18,135.87 875.91,135.87 876.63,135.87 877.36,135.87 878.09,135.87 878.82,135.87 879.55,135.87 880.28,135.87 881.01,135.87 881.74,135.87 882.47,135.87 883.2,135.87 883.93,135.87 884.66,135.87 885.38,135.87 886.11,135.87 886.84,135.87 887.57,135.87 888.3,135.87 889.03,135.87 889.76,135.87 890.49,135.87 891.22,135.87 891.95,135.87 892.68,135.87 893.41,135.87 894.14,135.87 894.86,135.87 895.59,135.87 896.32,135.87 897.05,135.87 897.78,135.87 898.51,135.87 899.24,135.87 899.97,135.87 900.7,135.87 901.43,135.87 902.16,135.87 902.89,135.87 903.61,135.87 904.34,135.87 905.07,135.87 905.8,135.87 906.53,135.87 907.26,135.87 907.99,135.87 908.72,135.87 909.45,135.87 910.18,135.87 910.91,135.87 911.64,135.87 912.36,135.87 913.09,135.87 913.82,135.87 914.55,135.87 915.28,135.87 916.01,135.87 916.74,135.87 917.47,135.87 918.2,135.87 918.93,135.87 919.66,135.87 920.39,135.87 921.12,135.87 921.84,135.87 922.57,135.87 923.3,135.87 924.03,135.87 924.76,135.87 925.49,135.87 926.22,135.87 926.95,135.87 927.68,135.87 928.41,135.87 929.14,135.87 929.87,135.87 930.59,135.87 931.32,135.87 932.05,135.87 932.78,135.87 933.51,135.87 934.24,135.87 934.97,135.87 935.7,135.87 936.43,135.87 937.16,135.87 937.89,135.87 938.62,135.87 939.34,135.87 940.07,135.87 940.8,135.87 941.53,135.87 942.26,135.87 942.99,135.87 943.72,135.87 944.45,135.87 945.18,135.87 945.91,135.87 946.64,135.87 947.37,135.87 948.09,135.87 948.82,135.87 949.55,135.87 950.28,135.87 951.01,135.87 951.74,135.87 952.47,135.87 953.2,135.87 953.93,135.87 954.66,135.88 955.39,135.88 956.12,135.88 956.85,135.88 957.57,135.88 958.3,135.88 959.03,135.88 959.76,135.88 960.49,135.88 961.22,135.88 961.95,135.88 962.68,135.88 963.41,135.88 964.14,135.88 964.87,135.88 965.6,135.89 966.32,135.89 967.05,135.89 967.78,135.89 968.51,135.89 969.24,135.89 969.97,135.89 970.7,135.89 971.43,135.9 972.16,135.9 972.89,135.9 973.62,135.9 974.35,135.9 975.07,135.9 975.8,135.91 976.53,135.91 977.26,135.91 977.99,135.91 978.72,135.92 979.45,135.92 980.18,135.92 980.91,135.92 981.64,135.93 982.37,135.93 983.1,135.93 983.82,135.94 984.55,135.94 985.28,135.94 986.01,135.95 986.74,135.95 987.47,135.96 988.2,135.96 988.93,135.97 989.66,135.97 990.39,135.98 991.12,135.98 991.85,135.99 992.58,136 993.3,136 994.03,136.01 994.76,136.02 995.49,136.03 996.22,136.04 996.95,136.04 997.68,136.05 998.41,136.06 999.14,136.07 999.87,136.09 1000.6,136.1 1001.33,136.11 1002.05,136.12 1002.78,136.14 1003.51,136.15 1004.24,136.16 1004.97,136.18 1005.7,136.2 1006.43,136.21 1007.16,136.23 1007.89,136.25 1008.62,136.27 1009.35,136.29 1010.08,136.31 1010.8,136.34 1011.53,136.36 1012.26,136.39 1012.99,136.41 1013.72,136.44 1014.45,136.47 1015.18,136.5 1015.91,136.53 1016.64,136.56 1017.37,136.6 1018.1,136.64 1018.83,136.67 1019.55,136.71 1020.28,136.76 1021.01,136.8 1021.74,136.84 1022.47,136.89 1023.2,136.94 1023.93,136.99 1024.66,137.05 1025.39,137.1 1026.12,137.16 1026.85,137.22 1027.58,137.29 1028.31,137.35 1029.03,137.42 1029.76,137.49 1030.49,137.57 1031.22,137.64 1031.95,137.72 1032.68,137.8 1033.41,137.89 1034.14,137.98 1034.87,138.07 1035.6,138.16 1036.33,138.26 1037.06,138.36 1037.78,138.47 1038.51,138.58 1039.24,138.69 1039.97,138.8 1040.7,138.92 1041.43,139.04 1042.16,139.17 1042.89,139.3 1043.62,139.43 1044.35,139.57 1045.08,139.71 1045.81,139.85 1046.53,140 1047.26,140.15 1047.99,140.3 1048.72,140.46 1049.45,140.63 1050.18,140.79 1050.91,140.96 1051.64,141.14 1052.37,141.32 1053.1,141.5 1053.83,141.68 1054.56,141.87 1055.28,142.07 1056.01,142.27 1056.74,142.47 1057.47,142.67 1058.2,142.88 1058.93,143.09 1059.66,143.31 1060.39,143.53 1061.12,143.76 1061.85,143.98 1062.58,144.22 1063.31,144.45 1064.04,144.69 1064.76,144.94 1065.49,145.18 1066.22,145.43 1066.95,145.69 1067.68,145.95 1068.41,146.21 1069.14,146.47 1069.87,146.74 1070.6,147.02 1071.33,147.29 1072.06,147.57 1072.79,147.85 1073.51,148.14 1074.24,148.43 1074.97,148.72 1075.7,149.02 1076.43,149.32 1077.16,149.62 1077.89,149.92 1078.62,150.23 1079.35,150.54 1080.08,150.86 1080.81,151.17 1081.54,151.49 1082.26,151.81 1082.99,152.14 1083.72,152.46 1084.45,152.79 1085.18,153.12 1085.91,153.45 1086.64,153.79 1087.37,154.13 1088.1,154.47 1088.83,154.81 1089.56,155.15 1090.29,155.5 1091.02,155.85 1091.74,156.19 1092.47,156.55 1093.2,156.9 1093.93,157.25 1094.66,157.61 1095.39,157.96 1096.12,158.32 1096.85,158.68 1097.58,159.04 1098.31,159.4 1099.04,159.77 1099.77,160.13 1100.49,160.5 1101.22,160.86 1101.95,161.23 1102.68,161.6 1103.41,161.97 1104.14,162.34 1104.87,162.71 1105.6,163.08 1106.33,163.45 1107.06,163.82 1107.79,164.2 1108.52,164.57 1109.24,164.95 1109.97,165.32 1110.7,165.7 1111.43,166.07 1112.16,166.45 1112.89,166.83 1113.62,167.21 1114.35,167.59 1115.08,167.96 1115.81,168.34 1116.54,168.72 1117.27,169.1 1117.99,169.48 1118.72,169.87 1119.45,170.25 1120.18,170.63 1120.91,171.01 1121.64,171.39 1122.37,171.77 1123.1,172.16 1123.83,172.54 1124.56,172.92 1125.29,173.3 1126.02,173.69 1126.75,174.07 1127.47,174.46 1128.2,174.84 1128.93,175.22 1129.66,175.61 1130.39,175.99 1131.12,176.38 1131.85,176.76 1132.58,177.15 1133.31,177.53 1134.04,177.91 1134.77,178.3 1135.5,178.68 1136.22,179.07 1136.95,179.46 1137.68,179.84 1138.41,180.23 1139.14,180.61 1139.87,181 1140.6,181.38 1141.33,181.77 1142.06,182.16 1142.79,182.54 1143.52,182.93 1144.25,183.31 1144.97,183.7 1145.7,184.09 1146.43,184.47 1147.16,184.86 1147.89,185.24 1148.62,185.63 1149.35,186.02 1150.08,186.4 1150.81,186.79 1151.54,187.18 1152.27,187.56 1153,187.95 1153.72,188.34 1154.45,188.72 1155.18,189.11 1155.91,189.5 1156.64,189.88 1157.37,190.27 1158.1,190.66 1158.83,191.04 1159.56,191.43 1160.29,191.82 1161.02,192.21 1161.75,192.59 1162.48,192.98 1163.2,193.37 1163.93,193.75 1164.66,194.14 1165.39,194.53 1166.12,194.92 1166.85,195.3 1167.58,195.69 1168.31,196.08 1169.04,196.47 1169.77,196.85 1170.5,197.24 1171.23,197.63 1171.95,198.02 1172.68,198.4 1173.41,198.79 1174.14,199.18 1174.87,199.57 1175.6,199.95 1176.33,200.34 1177.06,200.73 1177.79,201.12 1178.52,201.51 1179.25,201.9 1179.98,202.28 1180.7,202.67 1181.43,203.06 1182.16,203.45 1182.89,203.84 1183.62,204.23 1184.35,204.62 1185.08,205 1185.81,205.39 1186.54,205.78 1187.27,206.17 1188,206.56 1188.73,206.95 1189.45,207.34 1190.18,207.73 1190.91,208.12 1191.64,208.51 1192.37,208.9 1193.1,209.29 1193.83,209.68 1194.56,210.07 1195.29,210.46 1196.02,210.85 1196.75,211.25 1197.48,211.64 1198.21,212.03 1198.93,212.42 1199.66,212.81 1200.39,213.21 1201.12,213.6 1201.85,213.99 1202.58,214.39 1203.31,214.78 1204.04,215.18 1204.77,215.57 1205.5,215.97 1206.23,216.36 1206.96,216.76 1207.68,217.16 1208.41,217.55 1209.14,217.95 1209.87,218.35 1210.6,218.75 1211.33,219.15 1212.06,219.55 1212.79,219.95 1213.52,220.35 1214.25,220.75 1214.98,221.16 1215.71,221.56 1216.43,221.96 1217.16,222.37 1217.89,222.78 1218.62,223.18 1219.35,223.59 1220.08,224 1220.81,224.41 1221.54,224.82 1222.27,225.24 1223,225.65 1223.73,226.06 1224.46,226.48 1225.18,226.9 1225.91,227.32 1226.64,227.74 1227.37,228.16 1228.1,228.58 1228.83,229.01 1229.56,229.43 1230.29,229.86 1231.02,230.29 1231.75,230.73 1232.48,231.16 1233.21,231.59 1233.94,232.03 1234.66,232.47 1235.39,232.91 1236.12,233.36 1236.85,233.8 1237.58,234.25 1238.31,234.7 1239.04,235.15 1239.77,235.61 1240.5,236.07 1241.23,236.53 1241.96,236.99 1242.69,237.45 1243.41,237.92 1244.14,238.39 1244.87,238.86 1245.6,239.34 1246.33,239.81 1247.06,240.29 1247.79,240.77 1248.52,241.26 1249.25,241.75 1249.98,242.24 1250.71,242.73 1251.44,243.22 1252.16,243.72 1252.89,244.22 1253.62,244.72 1254.35,245.23 1255.08,245.73 1255.81,246.24 1256.54,246.75 1257.27,247.27 1258,247.78 1258.73,248.3 1259.46,248.82 1260.19,249.35 1260.92,249.87 1261.64,250.4 1262.37,250.93 1263.1,251.46 1263.83,251.99 1264.56,252.53 1265.29,253.06 1266.02,253.6 1266.75,254.14 1267.48,254.69 1268.21,255.23 1268.94,255.77 1269.67,256.32 1270.39,256.87 1271.12,257.42 1271.85,257.97 1272.58,258.52 1273.31,259.07 1274.04,259.63 1274.77,260.18 1275.5,260.74 1276.23,261.3 1276.96,261.86 1277.69,262.42 1278.42,262.98 1279.14,263.54 1279.87,264.1 1280.6,264.67 1281.33,265.23 1282.06,265.79 1282.79,266.36 1283.52,266.93 1284.25,267.49 1284.98,268.06 1285.71,268.63 1286.44,269.2 1287.17,269.77 1287.89,270.34 1288.62,270.91 1289.35,271.48 1290.08,272.05 1290.81,272.62 1291.54,273.2 1292.27,273.77 1293,274.34 1293.73,274.92 1294.46,275.49 1295.19,276.06 1295.92,276.64 1296.65,277.21 1297.37,277.79 1298.1,278.36 1298.83,278.94 1299.56,279.51 1300.29,280.09 1301.02,280.67 1301.75,281.24 1302.48,281.82 1303.21,282.4 1303.94,282.97 1304.67,283.55 1305.4,284.13 1306.12,284.71 1306.85,285.28 1307.58,285.86 1308.31,286.44 1309.04,287.02 1309.77,287.6 1310.5,288.17 1311.23,288.75 1311.96,289.33 1312.69,289.91 1313.42,290.49 1314.15,291.07 1314.87,291.65 1315.6,292.23 1316.33,292.8 1317.06,293.38 1317.79,293.96 1318.52,294.54 1319.25,295.12 1319.98,295.7 1320.71,296.28 1321.44,296.86 1322.17,297.44 1322.9,298.02 1323.62,298.6 1324.35,299.18 1325.08,299.76 1325.81,300.34 1326.54,300.92 1327.27,301.5 1328,302.08" fill="none" stroke="#7808D8" stroke-width="4.1" stroke-linejoin="round" stroke-linecap="butt" clip-path="url(#c2)"/>
<polyline points="812.64,570.46 813.37,570.23 814.11,570.01 814.85,569.79 815.59,569.57 816.32,569.35 817.06,569.12 817.8,568.9 818.53,568.68 819.27,568.46 820.01,568.23 820.75,568.01 821.48,567.79 822.22,567.57 822.96,567.35 823.7,567.12 824.43,566.9 825.17,566.68 825.91,566.46 826.65,566.23 827.38,566.01 828.12,565.79 828.86,565.57 829.59,565.35 830.33,565.12 831.07,564.9 831.81,564.68 832.54,564.46 833.28,564.23 834.02,564.01 834.76,563.79 835.49,563.57 836.23,563.35 836.97,563.12 837.7,562.9 838.44,562.68 839.18,562.46 839.92,562.24 840.65,562.01 841.39,561.79 842.13,561.57 842.87,561.35 843.6,561.12 844.34,560.9 845.08,560.68 845.81,560.46 846.55,560.24 847.29,560.01 848.03,559.79 848.76,559.57 849.5,559.35 850.24,559.12 850.98,558.9 851.71,558.68 852.45,558.46 853.19,558.24 853.92,558.01 854.66,557.79 855.4,557.57 856.14,557.35 856.87,557.12 857.61,556.9 858.35,556.68 859.09,556.46 859.82,556.24 860.56,556.01 861.3,555.79 862.03,555.57 862.77,555.35 863.51,555.13 864.25,554.9 864.98,554.68 865.72,554.46 866.46,554.24 867.2,554.01 867.93,553.79 868.67,553.57 869.41,553.35 870.15,553.13 870.88,552.9 871.62,552.68 872.36,552.46 873.09,552.24 873.83,552.01 874.57,551.79 875.31,551.57 876.04,551.35 876.78,551.13 877.52,550.9 878.26,550.68 878.99,550.46 879.73,550.24 880.47,550.02 881.2,549.79 881.94,549.57 882.68,549.35 883.42,549.13 884.15,548.9 884.89,548.68 885.63,548.46 886.37,548.24 887.1,548.02 887.84,547.79 888.58,547.57 889.31,547.35 890.05,547.13 890.79,546.9 891.53,546.68 892.26,546.46 893,546.24 893.74,546.02 894.48,545.79 895.21,545.57 895.95,545.35 896.69,545.13 897.42,544.9 898.16,544.68 898.9,544.46 899.64,544.24 900.37,544.02 901.11,543.79 901.85,543.57 902.59,543.35 903.32,543.13 904.06,542.9 904.8,542.68 905.53,542.46 906.27,542.24 907.01,542.02 907.75,541.79 908.48,541.57 909.22,541.35 909.96,541.13 910.7,540.9 911.43,540.68 912.17,540.46 912.91,540.24 913.64,540.02 914.38,539.79 915.12,539.57 915.86,539.35 916.59,539.13 917.33,538.9 918.07,538.68 918.81,538.46 919.54,538.24 920.28,538.01 921.02,537.79 921.76,537.57 922.49,537.35 923.23,537.12 923.97,536.9 924.7,536.68 925.44,536.46 926.18,536.23 926.92,536.01 927.65,535.79 928.39,535.57 929.13,535.34 929.87,535.12 930.6,534.9 931.34,534.68 932.08,534.45 932.81,534.23 933.55,534.01 934.29,533.79 935.03,533.56 935.76,533.34 936.5,533.12 937.24,532.9 937.98,532.67 938.71,532.45 939.45,532.23 940.19,532 940.92,531.78 941.66,531.56 942.4,531.33 943.14,531.11 943.87,530.89 944.61,530.66 945.35,530.44 946.09,530.22 946.82,529.99 947.56,529.77 948.3,529.55 949.03,529.32 949.77,529.1 950.51,528.87 951.25,528.65 951.98,528.42 952.72,528.2 953.46,527.97 954.2,527.75 954.93,527.52 955.67,527.3 956.41,527.07 957.14,526.85 957.88,526.62 958.62,526.4 959.36,526.17 960.09,525.94 960.83,525.72 961.57,525.49 962.31,525.26 963.04,525.03 963.78,524.81 964.52,524.58 965.25,524.35 965.99,524.12 966.73,523.89 967.47,523.66 968.2,523.43 968.94,523.2 969.68,522.97 970.42,522.74 971.15,522.5 971.89,522.27 972.63,522.04 973.37,521.8 974.1,521.57 974.84,521.33 975.58,521.09 976.31,520.86 977.05,520.62 977.79,520.38 978.53,520.14 979.26,519.9 980,519.65 980.74,519.41 981.48,519.16 982.21,518.92 982.95,518.67 983.69,518.42 984.42,518.17 985.16,517.92 985.9,517.67 986.64,517.41 987.37,517.15 988.11,516.9 988.85,516.64 989.59,516.37 990.32,516.11 991.06,515.84 991.8,515.57 992.53,515.3 993.27,515.03 994.01,514.75 994.75,514.48 995.48,514.2 996.22,513.91 996.96,513.63 997.7,513.34 998.43,513.05 999.17,512.75 999.91,512.46 1000.64,512.16 1001.38,511.85 1002.12,511.55 1002.86,511.24 1003.59,510.92 1004.33,510.61 1005.07,510.29 1005.81,509.96 1006.54,509.64 1007.28,509.31 1008.02,508.98 1008.75,508.64 1009.49,508.3 1010.23,507.96 1010.97,507.61 1011.7,507.26 1012.44,506.91 1013.18,506.55 1013.92,506.19 1014.65,505.83 1015.39,505.47 1016.13,505.1 1016.87,504.73 1017.6,504.35 1018.34,503.97 1019.08,503.59 1019.81,503.21 1020.55,502.82 1021.29,502.44 1022.03,502.04 1022.76,501.65 1023.5,501.26 1024.24,500.86 1024.98,500.46 1025.71,500.05 1026.45,499.65 1027.19,499.24 1027.92,498.83 1028.66,498.42 1029.4,498.01 1030.14,497.59 1030.87,497.18 1031.61,496.76 1032.35,496.34 1033.09,495.92 1033.82,495.5 1034.56,495.07 1035.3,494.65 1036.03,494.22 1036.77,493.79 1037.51,493.36 1038.25,492.93 1038.98,492.5 1039.72,492.06 1040.46,491.63 1041.2,491.19 1041.93,490.76 1042.67,490.32 1043.41,489.88 1044.14,489.44 1044.88,489 1045.62,488.56 1046.36,488.11 1047.09,487.67 1047.83,487.22 1048.57,486.78 1049.31,486.33 1050.04,485.88 1050.78,485.43 1051.52,484.98 1052.25,484.53 1052.99,484.08 1053.73,483.63 1054.47,483.17 1055.2,482.72 1055.94,482.26 1056.68,481.8 1057.42,481.34 1058.15,480.88 1058.89,480.42 1059.63,479.96 1060.36,479.49 1061.1,479.02 1061.84,478.56 1062.58,478.09 1063.31,477.62 1064.05,477.14 1064.79,476.67 1065.53,476.2 1066.26,475.72 1067,475.24 1067.74,474.76 1068.48,474.27 1069.21,473.79 1069.95,473.3 1070.69,472.81 1071.42,472.32 1072.16,471.82 1072.9,471.32 1073.64,470.82 1074.37,470.32 1075.11,469.81 1075.85,469.3 1076.59,468.79 1077.32,468.27 1078.06,467.75 1078.8,467.22 1079.53,466.7 1080.27,466.16 1081.01,465.62 1081.75,465.08 1082.48,464.53 1083.22,463.98 1083.96,463.42 1084.7,462.86 1085.43,462.29 1086.17,461.72 1086.91,461.14 1087.64,460.55 1088.38,459.96 1089.12,459.37 1089.86,458.77 1090.59,458.17 1091.33,457.57 1092.07,456.97 1092.81,456.37 1093.54,455.78 1094.28,455.21 1095.02,454.65 1095.75,454.12 1096.49,453.62 1097.23,453.17 1097.97,452.77 1098.7,452.42 1099.44,452.14 1100.18,451.92 1100.92,451.77 1101.65,451.68 1102.39,451.64 1103.13,451.66 1103.86,451.71 1104.6,451.79 1105.34,451.89 1106.08,452.01 1106.81,452.14 1107.55,452.28 1108.29,452.42 1109.03,452.56 1109.76,452.7 1110.5,452.84 1111.24,452.97 1111.98,453.09 1112.71,453.22 1113.45,453.33 1114.19,453.44 1114.92,453.55 1115.66,453.65 1116.4,453.74 1117.14,453.83 1117.87,453.91 1118.61,453.99 1119.35,454.06 1120.09,454.13 1120.82,454.2 1121.56,454.26 1122.3,454.32 1123.03,454.37 1123.77,454.43 1124.51,454.47 1125.25,454.52 1125.98,454.56 1126.72,454.6 1127.46,454.64 1128.2,454.68 1128.93,454.71 1129.67,454.74 1130.41,454.77 1131.14,454.8 1131.88,454.83 1132.62,454.85 1133.36,454.87 1134.09,454.9 1134.83,454.92 1135.57,454.94 1136.31,454.95 1137.04,454.97 1137.78,454.99 1138.52,455 1139.25,455.02 1139.99,455.03 1140.73,455.04 1141.47,455.06 1142.2,455.07 1142.94,455.08 1143.68,455.09 1144.42,455.1 1145.15,455.11 1145.89,455.11 1146.63,455.12 1147.36,455.13 1148.1,455.14 1148.84,455.14 1149.58,455.15 1150.31,455.15 1151.05,455.16 1151.79,455.16 1152.53,455.17 1153.26,455.17 1154,455.18 1154.74,455.18 1155.47,455.19 1156.21,455.19 1156.95,455.19 1157.69,455.2 1158.42,455.2 1159.16,455.2 1159.9,455.2 1160.64,455.21 1161.37,455.21 1162.11,455.21 1162.85,455.21 1163.59,455.22 1164.32,455.22 1165.06,455.22 1165.8,455.22 1166.53,455.22 1167.27,455.22 1168.01,455.23 1168.75,455.23 1169.48,455.23 1170.22,455.23 1170.96,455.23 1171.7,455.23 1172.43,455.23 1173.17,455.23 1173.91,455.23 1174.64,455.23 1175.38,455.24 1176.12,455.24 1176.86,455.24 1177.59,455.24 1178.33,455.24 1179.07,455.24 1179.81,455.24 1180.54,455.24 1181.28,455.24 1182.02,455.24 1182.75,455.24 1183.49,455.24 1184.23,455.24 1184.97,455.24 1185.7,455.24 1186.44,455.24 1187.18,455.24 1187.92,455.24 1188.65,455.24 1189.39,455.24 1190.13,455.24 1190.86,455.24 1191.6,455.24 1192.34,455.24 1193.08,455.24 1193.81,455.24 1194.55,455.24 1195.29,455.25 1196.03,455.25 1196.76,455.25 1197.5,455.25 1198.24,455.25 1198.97,455.25 1199.71,455.25 1200.45,455.25 1201.19,455.25 1201.92,455.25 1202.66,455.25 1203.4,455.25 1204.14,455.25 1204.87,455.25 1205.61,455.25 1206.35,455.25 1207.08,455.25 1207.82,455.25 1208.56,455.25 1209.3,455.25 1210.03,455.25 1210.77,455.25 1211.51,455.25 1212.25,455.25 1212.98,455.25 1213.72,455.25 1214.46,455.25 1215.2,455.25 1215.93,455.25 1216.67,455.25 1217.41,455.25 1218.14,455.25 1218.88,455.25 1219.62,455.25 1220.36,455.25 1221.09,455.25 1221.83,455.25 1222.57,455.25 1223.31,455.25 1224.04,455.25 1224.78,455.25 1225.52,455.25 1226.25,455.25 1226.99,455.25 1227.73,455.25 1228.47,455.25 1229.2,455.25 1229.94,455.25 1230.68,455.25 1231.42,455.25 1232.15,455.25 1232.89,455.25 1233.63,455.25 1234.36,455.25 1235.1,455.25 1235.84,455.25 1236.58,455.25 1237.31,455.25 1238.05,455.25 1238.79,455.25 1239.53,455.25 1240.26,455.25 1241,455.25 1241.74,455.25 1242.47,455.25 1243.21,455.25 1243.95,455.25 1244.69,455.25 1245.42,455.25 1246.16,455.25 1246.9,455.25 1247.64,455.25 1248.37,455.25 1249.11,455.25 1249.85,455.25 1250.58,455.25 1251.32,455.25 1252.06,455.25 1252.8,455.25 1253.53,455.25 1254.27,455.25 1255.01,455.25 1255.75,455.25 1256.48,455.25 1257.22,455.25 1257.96,455.25 1258.7,455.25 1259.43,455.25 1260.17,455.25 1260.91,455.25 1261.64,455.25 1262.38,455.25 1263.12,455.25 1263.86,455.25 1264.59,455.25 1265.33,455.25 1266.07,455.25 1266.81,455.25 1267.54,455.25 1268.28,455.25 1269.02,455.25 1269.75,455.25 1270.49,455.25 1271.23,455.25 1271.97,455.25 1272.7,455.25 1273.44,455.25 1274.18,455.25 1274.92,455.25 1275.65,455.25 1276.39,455.25 1277.13,455.25 1277.86,455.25 1278.6,455.25 1279.34,455.25 1280.08,455.25 1280.81,455.25 1281.55,455.25 1282.29,455.25 1283.03,455.25 1283.76,455.25 1284.5,455.25 1285.24,455.25 1285.97,455.25 1286.71,455.25 1287.45,455.25 1288.19,455.25 1288.92,455.25 1289.66,455.25 1290.4,455.25 1291.14,455.25 1291.87,455.25 1292.61,455.25 1293.35,455.25 1294.08,455.25 1294.82,455.25 1295.56,455.25 1296.3,455.25 1297.03,455.25 1297.77,455.25 1298.51,455.25 1299.25,455.25 1299.98,455.25 1300.72,455.25 1301.46,455.25 1302.19,455.25 1302.93,455.25 1303.67,455.25 1304.41,455.25 1305.14,455.25 1305.88,455.25 1306.62,455.25 1307.36,455.25 1308.09,455.25 1308.83,455.25 1309.57,455.25 1310.31,455.25 1311.04,455.25 1311.78,455.25 1312.52,455.25 1313.25,455.25 1313.99,455.25 1314.73,455.25 1315.47,455.25 1316.2,455.25 1316.94,455.25 1317.68,455.25 1318.42,455.25 1319.15,455.25 1319.89,455.25 1320.63,455.25 1321.36,455.25 1322.1,455.25 1322.84,455.25 1323.58,455.25 1324.31,455.25 1325.05,455.25 1325.79,455.25 1326.53,455.25 1327.26,455.25 1328,455.25" fill="none" stroke="#0068B8" stroke-width="4.1" stroke-linejoin="round" stroke-linecap="butt" clip-path="url(#c3)"/>
<polyline points="812.64,575.94 813.37,575.72 814.11,575.5 814.85,575.28 815.59,575.06 816.32,574.83 817.06,574.61 817.8,574.39 818.53,574.17 819.27,573.95 820.01,573.72 820.75,573.5 821.48,573.28 822.22,573.06 822.96,572.83 823.7,572.61 824.43,572.39 825.17,572.17 825.91,571.95 826.65,571.72 827.38,571.5 828.12,571.28 828.86,571.06 829.59,570.83 830.33,570.61 831.07,570.39 831.81,570.17 832.54,569.95 833.28,569.72 834.02,569.5 834.76,569.28 835.49,569.06 836.23,568.83 836.97,568.61 837.7,568.39 838.44,568.17 839.18,567.95 839.92,567.72 840.65,567.5 841.39,567.28 842.13,567.06 842.87,566.84 843.6,566.61 844.34,566.39 845.08,566.17 845.81,565.95 846.55,565.72 847.29,565.5 848.03,565.28 848.76,565.06 849.5,564.84 850.24,564.61 850.98,564.39 851.71,564.17 852.45,563.95 853.19,563.72 853.92,563.5 854.66,563.28 855.4,563.06 856.14,562.84 856.87,562.61 857.61,562.39 858.35,562.17 859.09,561.95 859.82,561.72 860.56,561.5 861.3,561.28 862.03,561.06 862.77,560.84 863.51,560.61 864.25,560.39 864.98,560.17 865.72,559.95 866.46,559.73 867.2,559.5 867.93,559.28 868.67,559.06 869.41,558.84 870.15,558.61 870.88,558.39 871.62,558.17 872.36,557.95 873.09,557.73 873.83,557.5 874.57,557.28 875.31,557.06 876.04,556.84 876.78,556.61 877.52,556.39 878.26,556.17 878.99,555.95 879.73,555.73 880.47,555.5 881.2,555.28 881.94,555.06 882.68,554.84 883.42,554.62 884.15,554.39 884.89,554.17 885.63,553.95 886.37,553.73 887.1,553.5 887.84,553.28 888.58,553.06 889.31,552.84 890.05,552.62 890.79,552.39 891.53,552.17 892.26,551.95 893,551.73 893.74,551.5 894.48,551.28 895.21,551.06 895.95,550.84 896.69,550.62 897.42,550.39 898.16,550.17 898.9,549.95 899.64,549.73 900.37,549.5 901.11,549.28 901.85,549.06 902.59,548.84 903.32,548.62 904.06,548.39 904.8,548.17 905.53,547.95 906.27,547.73 907.01,547.51 907.75,547.28 908.48,547.06 909.22,546.84 909.96,546.62 910.7,546.39 911.43,546.17 912.17,545.95 912.91,545.73 913.64,545.51 914.38,545.28 915.12,545.06 915.86,544.84 916.59,544.62 917.33,544.39 918.07,544.17 918.81,543.95 919.54,543.73 920.28,543.51 921.02,543.28 921.76,543.06 922.49,542.84 923.23,542.62 923.97,542.4 924.7,542.17 925.44,541.95 926.18,541.73 926.92,541.51 927.65,541.28 928.39,541.06 929.13,540.84 929.87,540.62 930.6,540.4 931.34,540.17 932.08,539.95 932.81,539.73 933.55,539.51 934.29,539.28 935.03,539.06 935.76,538.84 936.5,538.62 937.24,538.4 937.98,538.17 938.71,537.95 939.45,537.73 940.19,537.51 940.92,537.29 941.66,537.06 942.4,536.84 943.14,536.62 943.87,536.4 944.61,536.17 945.35,535.95 946.09,535.73 946.82,535.51 947.56,535.29 948.3,535.06 949.03,534.84 949.77,534.62 950.51,534.4 951.25,534.18 951.98,533.95 952.72,533.73 953.46,533.51 954.2,533.29 954.93,533.06 955.67,532.84 956.41,532.62 957.14,532.4 957.88,532.18 958.62,531.95 959.36,531.73 960.09,531.51 960.83,531.29 961.57,531.07 962.31,530.84 963.04,530.62 963.78,530.4 964.52,530.18 965.25,529.96 965.99,529.73 966.73,529.51 967.47,529.29 968.2,529.07 968.94,528.85 969.68,528.63 970.42,528.4 971.15,528.18 971.89,527.96 972.63,527.74 973.37,527.52 974.1,527.29 974.84,527.07 975.58,526.85 976.31,526.63 977.05,526.41 977.79,526.19 978.53,525.97 979.26,525.74 980,525.52 980.74,525.3 981.48,525.08 982.21,524.86 982.95,524.64 983.69,524.42 984.42,524.19 985.16,523.97 985.9,523.75 986.64,523.53 987.37,523.31 988.11,523.09 988.85,522.87 989.59,522.65 990.32,522.43 991.06,522.21 991.8,521.99 992.53,521.77 993.27,521.55 994.01,521.33 994.75,521.11 995.48,520.89 996.22,520.67 996.96,520.45 997.7,520.23 998.43,520.01 999.17,519.79 999.91,519.57 1000.64,519.36 1001.38,519.14 1002.12,518.92 1002.86,518.7 1003.59,518.48 1004.33,518.27 1005.07,518.05 1005.81,517.83 1006.54,517.61 1007.28,517.4 1008.02,517.18 1008.75,516.97 1009.49,516.75 1010.23,516.54 1010.97,516.32 1011.7,516.11 1012.44,515.89 1013.18,515.68 1013.92,515.46 1014.65,515.25 1015.39,515.04 1016.13,514.82 1016.87,514.61 1017.6,514.4 1018.34,514.19 1019.08,513.98 1019.81,513.77 1020.55,513.55 1021.29,513.34 1022.03,513.13 1022.76,512.92 1023.5,512.71 1024.24,512.51 1024.98,512.3 1025.71,512.09 1026.45,511.88 1027.19,511.67 1027.92,511.46 1028.66,511.25 1029.4,511.05 1030.14,510.84 1030.87,510.63 1031.61,510.42 1032.35,510.22 1033.09,510.01 1033.82,509.8 1034.56,509.59 1035.3,509.39 1036.03,509.18 1036.77,508.97 1037.51,508.76 1038.25,508.55 1038.98,508.34 1039.72,508.13 1040.46,507.93 1041.2,507.72 1041.93,507.51 1042.67,507.3 1043.41,507.09 1044.14,506.87 1044.88,506.66 1045.62,506.45 1046.36,506.24 1047.09,506.03 1047.83,505.81 1048.57,505.6 1049.31,505.39 1050.04,505.17 1050.78,504.96 1051.52,504.74 1052.25,504.52 1052.99,504.31 1053.73,504.09 1054.47,503.87 1055.2,503.66 1055.94,503.44 1056.68,503.22 1057.42,503 1058.15,502.78 1058.89,502.56 1059.63,502.34 1060.36,502.12 1061.1,501.89 1061.84,501.67 1062.58,501.45 1063.31,501.23 1064.05,501 1064.79,500.78 1065.53,500.55 1066.26,500.32 1067,500.1 1067.74,499.87 1068.48,499.64 1069.21,499.41 1069.95,499.18 1070.69,498.95 1071.42,498.72 1072.16,498.49 1072.9,498.26 1073.64,498.02 1074.37,497.79 1075.11,497.55 1075.85,497.32 1076.59,497.08 1077.32,496.84 1078.06,496.6 1078.8,496.36 1079.53,496.12 1080.27,495.88 1081.01,495.63 1081.75,495.39 1082.48,495.14 1083.22,494.89 1083.96,494.64 1084.7,494.39 1085.43,494.14 1086.17,493.88 1086.91,493.63 1087.64,493.37 1088.38,493.11 1089.12,492.84 1089.86,492.58 1090.59,492.31 1091.33,492.04 1092.07,491.77 1092.81,491.5 1093.54,491.22 1094.28,490.94 1095.02,490.66 1095.75,490.38 1096.49,490.09 1097.23,489.8 1097.97,489.51 1098.7,489.21 1099.44,488.91 1100.18,488.61 1100.92,488.3 1101.65,488 1102.39,487.69 1103.13,487.37 1103.86,487.05 1104.6,486.73 1105.34,486.41 1106.08,486.08 1106.81,485.75 1107.55,485.41 1108.29,485.07 1109.03,484.73 1109.76,484.39 1110.5,484.04 1111.24,483.69 1111.98,483.33 1112.71,482.97 1113.45,482.61 1114.19,482.25 1114.92,481.88 1115.66,481.51 1116.4,481.13 1117.14,480.76 1117.87,480.38 1118.61,479.99 1119.35,479.61 1120.09,479.22 1120.82,478.83 1121.56,478.43 1122.3,478.04 1123.03,477.64 1123.77,477.23 1124.51,476.83 1125.25,476.42 1125.98,476.02 1126.72,475.61 1127.46,475.19 1128.2,474.78 1128.93,474.36 1129.67,473.94 1130.41,473.52 1131.14,473.1 1131.88,472.68 1132.62,472.25 1133.36,471.83 1134.09,471.4 1134.83,470.97 1135.57,470.54 1136.31,470.11 1137.04,469.68 1137.78,469.25 1138.52,468.81 1139.25,468.38 1139.99,467.94 1140.73,467.51 1141.47,467.08 1142.2,466.64 1142.94,466.21 1143.68,465.77 1144.42,465.34 1145.15,464.91 1145.89,464.48 1146.63,464.06 1147.36,463.63 1148.1,463.21 1148.84,462.8 1149.58,462.38 1150.31,461.98 1151.05,461.58 1151.79,461.18 1152.53,460.79 1153.26,460.42 1154,460.05 1154.74,459.69 1155.47,459.34 1156.21,459.01 1156.95,458.69 1157.69,458.38 1158.42,458.09 1159.16,457.81 1159.9,457.55 1160.64,457.31 1161.37,457.08 1162.11,456.88 1162.85,456.68 1163.59,456.51 1164.32,456.35 1165.06,456.21 1165.8,456.08 1166.53,455.97 1167.27,455.86 1168.01,455.78 1168.75,455.7 1169.48,455.63 1170.22,455.58 1170.96,455.53 1171.7,455.49 1172.43,455.45 1173.17,455.43 1173.91,455.4 1174.64,455.38 1175.38,455.37 1176.12,455.36 1176.86,455.35 1177.59,455.35 1178.33,455.35 1179.07,455.34 1179.81,455.34 1180.54,455.35 1181.28,455.35 1182.02,455.35 1182.75,455.36 1183.49,455.36 1184.23,455.37 1184.97,455.38 1185.7,455.38 1186.44,455.39 1187.18,455.39 1187.92,455.4 1188.65,455.41 1189.39,455.41 1190.13,455.42 1190.86,455.43 1191.6,455.43 1192.34,455.44 1193.08,455.44 1193.81,455.45 1194.55,455.45 1195.29,455.46 1196.03,455.46 1196.76,455.47 1197.5,455.47 1198.24,455.48 1198.97,455.48 1199.71,455.48 1200.45,455.49 1201.19,455.49 1201.92,455.5 1202.66,455.5 1203.4,455.5 1204.14,455.5 1204.87,455.51 1205.61,455.51 1206.35,455.51 1207.08,455.51 1207.82,455.52 1208.56,455.52 1209.3,455.52 1210.03,455.52 1210.77,455.52 1211.51,455.53 1212.25,455.53 1212.98,455.53 1213.72,455.53 1214.46,455.53 1215.2,455.53 1215.93,455.53 1216.67,455.54 1217.41,455.54 1218.14,455.54 1218.88,455.54 1219.62,455.54 1220.36,455.54 1221.09,455.54 1221.83,455.54 1222.57,455.54 1223.31,455.54 1224.04,455.54 1224.78,455.54 1225.52,455.55 1226.25,455.55 1226.99,455.55 1227.73,455.55 1228.47,455.55 1229.2,455.55 1229.94,455.55 1230.68,455.55 1231.42,455.55 1232.15,455.55 1232.89,455.55 1233.63,455.55 1234.36,455.55 1235.1,455.55 1235.84,455.55 1236.58,455.55 1237.31,455.55 1238.05,455.55 1238.79,455.55 1239.53,455.55 1240.26,455.55 1241,455.55 1241.74,455.55 1242.47,455.55 1243.21,455.55 1243.95,455.55 1244.69,455.55 1245.42,455.55 1246.16,455.55 1246.9,455.55 1247.64,455.55 1248.37,455.55 1249.11,455.55 1249.85,455.55 1250.58,455.55 1251.32,455.55 1252.06,455.55 1252.8,455.55 1253.53,455.55 1254.27,455.55 1255.01,455.55 1255.75,455.55 1256.48,455.55 1257.22,455.55 1257.96,455.55 1258.7,455.55 1259.43,455.55 1260.17,455.55 1260.91,455.55 1261.64,455.55 1262.38,455.55 1263.12,455.55 1263.86,455.55 1264.59,455.55 1265.33,455.55 1266.07,455.55 1266.81,455.55 1267.54,455.55 1268.28,455.55 1269.02,455.55 1269.75,455.55 1270.49,455.55 1271.23,455.55 1271.97,455.55 1272.7,455.55 1273.44,455.55 1274.18,455.55 1274.92,455.55 1275.65,455.55 1276.39,455.55 1277.13,455.55 1277.86,455.55 1278.6,455.55 1279.34,455.55 1280.08,455.55 1280.81,455.55 1281.55,455.55 1282.29,455.55 1283.03,455.55 1283.76,455.55 1284.5,455.55 1285.24,455.55 1285.97,455.55 1286.71,455.55 1287.45,455.55 1288.19,455.55 1288.92,455.55 1289.66,455.55 1290.4,455.55 1291.14,455.55 1291.87,455.55 1292.61,455.55 1293.35,455.55 1294.08,455.55 1294.82,455.55 1295.56,455.55 1296.3,455.55 1297.03,455.55 1297.77,455.55 1298.51,455.55 1299.25,455.55 1299.98,455.55 1300.72,455.55 1301.46,455.55 1302.19,455.55 1302.93,455.55 1303.67,455.55 1304.41,455.55 1305.14,455.55 1305.88,455.55 1306.62,455.55 1307.36,455.55 1308.09,455.55 1308.83,455.55 1309.57,455.55 1310.31,455.55 1311.04,455.55 1311.78,455.55 1312.52,455.55 1313.25,455.55 1313.99,455.55 1314.73,455.55 1315.47,455.55 1316.2,455.55 1316.94,455.55 1317.68,455.55 1318.42,455.55 1319.15,455.55 1319.89,455.55 1320.63,455.55 1321.36,455.55 1322.1,455.55 1322.84,455.55 1323.58,455.55 1324.31,455.55 1325.05,455.55 1325.79,455.55 1326.53,455.55 1327.26,455.55 1328,455.55" fill="none" stroke="#DA4F0E" stroke-width="4.1" stroke-linejoin="round" stroke-linecap="butt" clip-path="url(#c3)"/>
<polyline points="812.64,528.4 813.37,528.17 814.11,527.95 814.85,527.73 815.59,527.51 816.32,527.28 817.06,527.06 817.8,526.84 818.53,526.62 819.27,526.4 820.01,526.17 820.75,525.95 821.48,525.73 822.22,525.51 822.96,525.28 823.7,525.06 824.43,524.84 825.17,524.62 825.91,524.4 826.65,524.17 827.38,523.95 828.12,523.73 828.86,523.51 829.59,523.29 830.33,523.06 831.07,522.84 831.81,522.62 832.54,522.4 833.28,522.17 834.02,521.95 834.76,521.73 835.49,521.51 836.23,521.29 836.97,521.06 837.7,520.84 838.44,520.62 839.18,520.4 839.92,520.17 840.65,519.95 841.39,519.73 842.13,519.51 842.87,519.29 843.6,519.06 844.34,518.84 845.08,518.62 845.81,518.4 846.55,518.17 847.29,517.95 848.03,517.73 848.76,517.51 849.5,517.29 850.24,517.06 850.98,516.84 851.71,516.62 852.45,516.4 853.19,516.18 853.92,515.95 854.66,515.73 855.4,515.51 856.14,515.29 856.87,515.06 857.61,514.84 858.35,514.62 859.09,514.4 859.82,514.18 860.56,513.95 861.3,513.73 862.03,513.51 862.77,513.29 863.51,513.06 864.25,512.84 864.98,512.62 865.72,512.4 866.46,512.18 867.2,511.95 867.93,511.73 868.67,511.51 869.41,511.29 870.15,511.07 870.88,510.84 871.62,510.62 872.36,510.4 873.09,510.18 873.83,509.95 874.57,509.73 875.31,509.51 876.04,509.29 876.78,509.07 877.52,508.84 878.26,508.62 878.99,508.4 879.73,508.18 880.47,507.95 881.2,507.73 881.94,507.51 882.68,507.29 883.42,507.07 884.15,506.84 884.89,506.62 885.63,506.4 886.37,506.18 887.1,505.96 887.84,505.73 888.58,505.51 889.31,505.29 890.05,505.07 890.79,504.84 891.53,504.62 892.26,504.4 893,504.18 893.74,503.96 894.48,503.73 895.21,503.51 895.95,503.29 896.69,503.07 897.42,502.85 898.16,502.62 898.9,502.4 899.64,502.18 900.37,501.96 901.11,501.74 901.85,501.51 902.59,501.29 903.32,501.07 904.06,500.85 904.8,500.62 905.53,500.4 906.27,500.18 907.01,499.96 907.75,499.74 908.48,499.51 909.22,499.29 909.96,499.07 910.7,498.85 911.43,498.63 912.17,498.41 912.91,498.18 913.64,497.96 914.38,497.74 915.12,497.52 915.86,497.3 916.59,497.07 917.33,496.85 918.07,496.63 918.81,496.41 919.54,496.19 920.28,495.97 921.02,495.74 921.76,495.52 922.49,495.3 923.23,495.08 923.97,494.86 924.7,494.64 925.44,494.42 926.18,494.19 926.92,493.97 927.65,493.75 928.39,493.53 929.13,493.31 929.87,493.09 930.6,492.87 931.34,492.65 932.08,492.43 932.81,492.21 933.55,491.98 934.29,491.76 935.03,491.54 935.76,491.32 936.5,491.1 937.24,490.88 937.98,490.66 938.71,490.44 939.45,490.22 940.19,490 940.92,489.78 941.66,489.57 942.4,489.35 943.14,489.13 943.87,488.91 944.61,488.69 945.35,488.47 946.09,488.25 946.82,488.04 947.56,487.82 948.3,487.6 949.03,487.38 949.77,487.17 950.51,486.95 951.25,486.73 951.98,486.52 952.72,486.3 953.46,486.09 954.2,485.87 954.93,485.66 955.67,485.44 956.41,485.23 957.14,485.01 957.88,484.8 958.62,484.59 959.36,484.38 960.09,484.16 960.83,483.95 961.57,483.74 962.31,483.53 963.04,483.32 963.78,483.11 964.52,482.9 965.25,482.69 965.99,482.49 966.73,482.28 967.47,482.07 968.2,481.86 968.94,481.66 969.68,481.45 970.42,481.24 971.15,481.04 971.89,480.83 972.63,480.63 973.37,480.43 974.1,480.22 974.84,480.02 975.58,479.82 976.31,479.61 977.05,479.41 977.79,479.21 978.53,479 979.26,478.8 980,478.6 980.74,478.4 981.48,478.2 982.21,477.99 982.95,477.79 983.69,477.59 984.42,477.39 985.16,477.18 985.9,476.98 986.64,476.78 987.37,476.57 988.11,476.37 988.85,476.16 989.59,475.96 990.32,475.75 991.06,475.55 991.8,475.34 992.53,475.14 993.27,474.93 994.01,474.72 994.75,474.51 995.48,474.31 996.22,474.1 996.96,473.89 997.7,473.68 998.43,473.47 999.17,473.26 999.91,473.04 1000.64,472.83 1001.38,472.62 1002.12,472.41 1002.86,472.19 1003.59,471.98 1004.33,471.76 1005.07,471.55 1005.81,471.33 1006.54,471.11 1007.28,470.89 1008.02,470.68 1008.75,470.46 1009.49,470.24 1010.23,470.02 1010.97,469.8 1011.7,469.58 1012.44,469.36 1013.18,469.14 1013.92,468.91 1014.65,468.69 1015.39,468.47 1016.13,468.25 1016.87,468.02 1017.6,467.8 1018.34,467.57 1019.08,467.35 1019.81,467.12 1020.55,466.9 1021.29,466.67 1022.03,466.44 1022.76,466.22 1023.5,465.99 1024.24,465.76 1024.98,465.53 1025.71,465.31 1026.45,465.08 1027.19,464.85 1027.92,464.62 1028.66,464.39 1029.4,464.17 1030.14,463.94 1030.87,463.71 1031.61,463.49 1032.35,463.26 1033.09,463.03 1033.82,462.81 1034.56,462.59 1035.3,462.36 1036.03,462.14 1036.77,461.92 1037.51,461.7 1038.25,461.49 1038.98,461.27 1039.72,461.06 1040.46,460.85 1041.2,460.64 1041.93,460.44 1042.67,460.24 1043.41,460.04 1044.14,459.85 1044.88,459.66 1045.62,459.47 1046.36,459.29 1047.09,459.11 1047.83,458.94 1048.57,458.77 1049.31,458.61 1050.04,458.45 1050.78,458.3 1051.52,458.15 1052.25,458.01 1052.99,457.87 1053.73,457.74 1054.47,457.62 1055.2,457.5 1055.94,457.38 1056.68,457.27 1057.42,457.17 1058.15,457.07 1058.89,456.98 1059.63,456.89 1060.36,456.8 1061.1,456.72 1061.84,456.65 1062.58,456.58 1063.31,456.51 1064.05,456.45 1064.79,456.39 1065.53,456.34 1066.26,456.28 1067,456.24 1067.74,456.19 1068.48,456.15 1069.21,456.11 1069.95,456.07 1070.69,456.04 1071.42,456 1072.16,455.97 1072.9,455.94 1073.64,455.92 1074.37,455.89 1075.11,455.87 1075.85,455.85 1076.59,455.83 1077.32,455.81 1078.06,455.79 1078.8,455.77 1079.53,455.76 1080.27,455.74 1081.01,455.73 1081.75,455.71 1082.48,455.7 1083.22,455.69 1083.96,455.68 1084.7,455.67 1085.43,455.66 1086.17,455.65 1086.91,455.64 1087.64,455.64 1088.38,455.63 1089.12,455.62 1089.86,455.62 1090.59,455.61 1091.33,455.6 1092.07,455.6 1092.81,455.59 1093.54,455.59 1094.28,455.59 1095.02,455.58 1095.75,455.58 1096.49,455.57 1097.23,455.57 1097.97,455.57 1098.7,455.56 1099.44,455.56 1100.18,455.56 1100.92,455.56 1101.65,455.55 1102.39,455.55 1103.13,455.55 1103.86,455.55 1104.6,455.55 1105.34,455.54 1106.08,455.54 1106.81,455.54 1107.55,455.54 1108.29,455.54 1109.03,455.54 1109.76,455.54 1110.5,455.54 1111.24,455.53 1111.98,455.53 1112.71,455.53 1113.45,455.53 1114.19,455.53 1114.92,455.53 1115.66,455.53 1116.4,455.53 1117.14,455.53 1117.87,455.53 1118.61,455.53 1119.35,455.53 1120.09,455.53 1120.82,455.52 1121.56,455.52 1122.3,455.52 1123.03,455.52 1123.77,455.52 1124.51,455.52 1125.25,455.52 1125.98,455.52 1126.72,455.52 1127.46,455.52 1128.2,455.52 1128.93,455.52 1129.67,455.52 1130.41,455.52 1131.14,455.52 1131.88,455.52 1132.62,455.52 1133.36,455.52 1134.09,455.52 1134.83,455.52 1135.57,455.52 1136.31,455.52 1137.04,455.52 1137.78,455.52 1138.52,455.52 1139.25,455.52 1139.99,455.52 1140.73,455.52 1141.47,455.52 1142.2,455.52 1142.94,455.52 1143.68,455.52 1144.42,455.52 1145.15,455.52 1145.89,455.52 1146.63,455.52 1147.36,455.52 1148.1,455.52 1148.84,455.52 1149.58,455.52 1150.31,455.52 1151.05,455.52 1151.79,455.52 1152.53,455.52 1153.26,455.52 1154,455.52 1154.74,455.52 1155.47,455.52 1156.21,455.52 1156.95,455.52 1157.69,455.52 1158.42,455.52 1159.16,455.52 1159.9,455.52 1160.64,455.52 1161.37,455.52 1162.11,455.52 1162.85,455.52 1163.59,455.52 1164.32,455.52 1165.06,455.52 1165.8,455.52 1166.53,455.52 1167.27,455.52 1168.01,455.52 1168.75,455.52 1169.48,455.52 1170.22,455.52 1170.96,455.52 1171.7,455.52 1172.43,455.52 1173.17,455.52 1173.91,455.52 1174.64,455.52 1175.38,455.52 1176.12,455.52 1176.86,455.52 1177.59,455.52 1178.33,455.52 1179.07,455.52 1179.81,455.52 1180.54,455.52 1181.28,455.52 1182.02,455.52 1182.75,455.52 1183.49,455.52 1184.23,455.52 1184.97,455.52 1185.7,455.52 1186.44,455.52 1187.18,455.52 1187.92,455.52 1188.65,455.52 1189.39,455.52 1190.13,455.52 1190.86,455.52 1191.6,455.52 1192.34,455.52 1193.08,455.52 1193.81,455.52 1194.55,455.52 1195.29,455.52 1196.03,455.52 1196.76,455.52 1197.5,455.52 1198.24,455.52 1198.97,455.52 1199.71,455.52 1200.45,455.52 1201.19,455.52 1201.92,455.52 1202.66,455.52 1203.4,455.52 1204.14,455.52 1204.87,455.52 1205.61,455.52 1206.35,455.52 1207.08,455.52 1207.82,455.52 1208.56,455.52 1209.3,455.52 1210.03,455.52 1210.77,455.52 1211.51,455.52 1212.25,455.52 1212.98,455.52 1213.72,455.52 1214.46,455.52 1215.2,455.52 1215.93,455.52 1216.67,455.52 1217.41,455.52 1218.14,455.52 1218.88,455.52 1219.62,455.52 1220.36,455.52 1221.09,455.52 1221.83,455.52 1222.57,455.52 1223.31,455.52 1224.04,455.52 1224.78,455.52 1225.52,455.52 1226.25,455.52 1226.99,455.52 1227.73,455.52 1228.47,455.52 1229.2,455.52 1229.94,455.52 1230.68,455.52 1231.42,455.52 1232.15,455.52 1232.89,455.52 1233.63,455.52 1234.36,455.52 1235.1,455.52 1235.84,455.52 1236.58,455.52 1237.31,455.52 1238.05,455.52 1238.79,455.52 1239.53,455.52 1240.26,455.52 1241,455.52 1241.74,455.52 1242.47,455.52 1243.21,455.52 1243.95,455.52 1244.69,455.52 1245.42,455.52 1246.16,455.52 1246.9,455.52 1247.64,455.52 1248.37,455.52 1249.11,455.52 1249.85,455.52 1250.58,455.52 1251.32,455.52 1252.06,455.52 1252.8,455.52 1253.53,455.52 1254.27,455.52 1255.01,455.52 1255.75,455.52 1256.48,455.52 1257.22,455.52 1257.96,455.52 1258.7,455.52 1259.43,455.52 1260.17,455.52 1260.91,455.52 1261.64,455.52 1262.38,455.52 1263.12,455.52 1263.86,455.52 1264.59,455.52 1265.33,455.52 1266.07,455.52 1266.81,455.52 1267.54,455.52 1268.28,455.52 1269.02,455.52 1269.75,455.52 1270.49,455.52 1271.23,455.52 1271.97,455.52 1272.7,455.52 1273.44,455.52 1274.18,455.52 1274.92,455.52 1275.65,455.52 1276.39,455.52 1277.13,455.52 1277.86,455.52 1278.6,455.52 1279.34,455.52 1280.08,455.52 1280.81,455.52 1281.55,455.52 1282.29,455.52 1283.03,455.52 1283.76,455.52 1284.5,455.52 1285.24,455.52 1285.97,455.52 1286.71,455.52 1287.45,455.52 1288.19,455.52 1288.92,455.52 1289.66,455.52 1290.4,455.52 1291.14,455.52 1291.87,455.52 1292.61,455.52 1293.35,455.52 1294.08,455.52 1294.82,455.52 1295.56,455.52 1296.3,455.52 1297.03,455.52 1297.77,455.52 1298.51,455.52 1299.25,455.52 1299.98,455.52 1300.72,455.52 1301.46,455.52 1302.19,455.52 1302.93,455.52 1303.67,455.52 1304.41,455.52 1305.14,455.52 1305.88,455.52 1306.62,455.52 1307.36,455.52 1308.09,455.52 1308.83,455.52 1309.57,455.52 1310.31,455.52 1311.04,455.52 1311.78,455.52 1312.52,455.52 1313.25,455.52 1313.99,455.52 1314.73,455.52 1315.47,455.52 1316.2,455.52 1316.94,455.52 1317.68,455.52 1318.42,455.52 1319.15,455.52 1319.89,455.52 1320.63,455.52 1321.36,455.52 1322.1,455.52 1322.84,455.52 1323.58,455.52 1324.31,455.52 1325.05,455.52 1325.79,455.52 1326.53,455.52 1327.26,455.52 1328,455.52" fill="none" stroke="#EBAB18" stroke-width="4.6" stroke-linejoin="round" stroke-linecap="butt" clip-path="url(#c3)"/>
<polyline points="812.64,527.36 813.37,527.14 814.11,526.91 814.85,526.69 815.59,526.47 816.32,526.25 817.06,526.02 817.8,525.8 818.53,525.58 819.27,525.36 820.01,525.14 820.75,524.91 821.48,524.69 822.22,524.47 822.96,524.25 823.7,524.03 824.43,523.8 825.17,523.58 825.91,523.36 826.65,523.14 827.38,522.91 828.12,522.69 828.86,522.47 829.59,522.25 830.33,522.03 831.07,521.8 831.81,521.58 832.54,521.36 833.28,521.14 834.02,520.92 834.76,520.69 835.49,520.47 836.23,520.25 836.97,520.03 837.7,519.8 838.44,519.58 839.18,519.36 839.92,519.14 840.65,518.92 841.39,518.69 842.13,518.47 842.87,518.25 843.6,518.03 844.34,517.81 845.08,517.58 845.81,517.36 846.55,517.14 847.29,516.92 848.03,516.7 848.76,516.47 849.5,516.25 850.24,516.03 850.98,515.81 851.71,515.59 852.45,515.36 853.19,515.14 853.92,514.92 854.66,514.7 855.4,514.48 856.14,514.25 856.87,514.03 857.61,513.81 858.35,513.59 859.09,513.37 859.82,513.14 860.56,512.92 861.3,512.7 862.03,512.48 862.77,512.26 863.51,512.04 864.25,511.81 864.98,511.59 865.72,511.37 866.46,511.15 867.2,510.93 867.93,510.71 868.67,510.48 869.41,510.26 870.15,510.04 870.88,509.82 871.62,509.6 872.36,509.38 873.09,509.16 873.83,508.94 874.57,508.72 875.31,508.49 876.04,508.27 876.78,508.05 877.52,507.83 878.26,507.61 878.99,507.39 879.73,507.17 880.47,506.95 881.2,506.73 881.94,506.51 882.68,506.29 883.42,506.07 884.15,505.85 884.89,505.63 885.63,505.41 886.37,505.19 887.1,504.98 887.84,504.76 888.58,504.54 889.31,504.32 890.05,504.1 890.79,503.89 891.53,503.67 892.26,503.45 893,503.23 893.74,503.02 894.48,502.8 895.21,502.59 895.95,502.37 896.69,502.16 897.42,501.94 898.16,501.73 898.9,501.51 899.64,501.3 900.37,501.09 901.11,500.88 901.85,500.66 902.59,500.45 903.32,500.24 904.06,500.03 904.8,499.83 905.53,499.62 906.27,499.41 907.01,499.21 907.75,499 908.48,498.8 909.22,498.59 909.96,498.39 910.7,498.19 911.43,497.99 912.17,497.79 912.91,497.59 913.64,497.4 914.38,497.2 915.12,497.01 915.86,496.82 916.59,496.63 917.33,496.44 918.07,496.25 918.81,496.07 919.54,495.89 920.28,495.71 921.02,495.53 921.76,495.35 922.49,495.18 923.23,495.01 923.97,494.84 924.7,494.67 925.44,494.5 926.18,494.34 926.92,494.18 927.65,494.03 928.39,493.87 929.13,493.72 929.87,493.57 930.6,493.43 931.34,493.28 932.08,493.15 932.81,493.01 933.55,492.88 934.29,492.75 935.03,492.62 935.76,492.5 936.5,492.38 937.24,492.26 937.98,492.15 938.71,492.04 939.45,491.93 940.19,491.83 940.92,491.73 941.66,491.63 942.4,491.54 943.14,491.45 943.87,491.36 944.61,491.27 945.35,491.19 946.09,491.11 946.82,491.04 947.56,490.97 948.3,490.9 949.03,490.83 949.77,490.76 950.51,490.7 951.25,490.64 951.98,490.58 952.72,490.53 953.46,490.48 954.2,490.43 954.93,490.38 955.67,490.33 956.41,490.29 957.14,490.24 957.88,490.2 958.62,490.16 959.36,490.13 960.09,490.09 960.83,490.05 961.57,490.02 962.31,489.99 963.04,489.96 963.78,489.93 964.52,489.9 965.25,489.87 965.99,489.84 966.73,489.81 967.47,489.79 968.2,489.76 968.94,489.73 969.68,489.71 970.42,489.68 971.15,489.66 971.89,489.64 972.63,489.61 973.37,489.59 974.1,489.56 974.84,489.54 975.58,489.52 976.31,489.49 977.05,489.47 977.79,489.44 978.53,489.41 979.26,489.39 980,489.36 980.74,489.33 981.48,489.31 982.21,489.28 982.95,489.25 983.69,489.21 984.42,489.18 985.16,489.15 985.9,489.11 986.64,489.08 987.37,489.04 988.11,489 988.85,488.96 989.59,488.92 990.32,488.87 991.06,488.83 991.8,488.78 992.53,488.73 993.27,488.68 994.01,488.62 994.75,488.57 995.48,488.51 996.22,488.45 996.96,488.38 997.7,488.32 998.43,488.25 999.17,488.18 999.91,488.1 1000.64,488.02 1001.38,487.94 1002.12,487.86 1002.86,487.77 1003.59,487.68 1004.33,487.59 1005.07,487.5 1005.81,487.4 1006.54,487.29 1007.28,487.19 1008.02,487.08 1008.75,486.97 1009.49,486.85 1010.23,486.73 1010.97,486.61 1011.7,486.49 1012.44,486.36 1013.18,486.22 1013.92,486.09 1014.65,485.95 1015.39,485.81 1016.13,485.67 1016.87,485.52 1017.6,485.37 1018.34,485.22 1019.08,485.06 1019.81,484.9 1020.55,484.74 1021.29,484.58 1022.03,484.41 1022.76,484.24 1023.5,484.07 1024.24,483.89 1024.98,483.72 1025.71,483.54 1026.45,483.36 1027.19,483.18 1027.92,482.99 1028.66,482.81 1029.4,482.62 1030.14,482.43 1030.87,482.24 1031.61,482.05 1032.35,481.85 1033.09,481.66 1033.82,481.46 1034.56,481.26 1035.3,481.06 1036.03,480.86 1036.77,480.66 1037.51,480.45 1038.25,480.25 1038.98,480.04 1039.72,479.84 1040.46,479.63 1041.2,479.42 1041.93,479.21 1042.67,479 1043.41,478.79 1044.14,478.58 1044.88,478.37 1045.62,478.16 1046.36,477.95 1047.09,477.73 1047.83,477.52 1048.57,477.3 1049.31,477.09 1050.04,476.87 1050.78,476.65 1051.52,476.44 1052.25,476.22 1052.99,476 1053.73,475.78 1054.47,475.57 1055.2,475.35 1055.94,475.13 1056.68,474.91 1057.42,474.69 1058.15,474.47 1058.89,474.25 1059.63,474.03 1060.36,473.81 1061.1,473.58 1061.84,473.36 1062.58,473.14 1063.31,472.92 1064.05,472.69 1064.79,472.47 1065.53,472.25 1066.26,472.02 1067,471.8 1067.74,471.58 1068.48,471.35 1069.21,471.13 1069.95,470.9 1070.69,470.68 1071.42,470.45 1072.16,470.23 1072.9,470 1073.64,469.78 1074.37,469.55 1075.11,469.32 1075.85,469.1 1076.59,468.87 1077.32,468.64 1078.06,468.42 1078.8,468.19 1079.53,467.96 1080.27,467.73 1081.01,467.51 1081.75,467.28 1082.48,467.05 1083.22,466.83 1083.96,466.6 1084.7,466.37 1085.43,466.15 1086.17,465.92 1086.91,465.7 1087.64,465.47 1088.38,465.25 1089.12,465.02 1089.86,464.8 1090.59,464.58 1091.33,464.36 1092.07,464.14 1092.81,463.92 1093.54,463.7 1094.28,463.48 1095.02,463.27 1095.75,463.05 1096.49,462.84 1097.23,462.63 1097.97,462.42 1098.7,462.22 1099.44,462.01 1100.18,461.81 1100.92,461.61 1101.65,461.42 1102.39,461.22 1103.13,461.03 1103.86,460.85 1104.6,460.66 1105.34,460.48 1106.08,460.3 1106.81,460.13 1107.55,459.96 1108.29,459.79 1109.03,459.63 1109.76,459.47 1110.5,459.31 1111.24,459.16 1111.98,459.01 1112.71,458.86 1113.45,458.72 1114.19,458.59 1114.92,458.46 1115.66,458.33 1116.4,458.2 1117.14,458.08 1117.87,457.97 1118.61,457.85 1119.35,457.74 1120.09,457.64 1120.82,457.54 1121.56,457.44 1122.3,457.35 1123.03,457.26 1123.77,457.17 1124.51,457.09 1125.25,457.01 1125.98,456.93 1126.72,456.86 1127.46,456.79 1128.2,456.72 1128.93,456.66 1129.67,456.6 1130.41,456.54 1131.14,456.48 1131.88,456.43 1132.62,456.38 1133.36,456.33 1134.09,456.29 1134.83,456.24 1135.57,456.2 1136.31,456.16 1137.04,456.13 1137.78,456.09 1138.52,456.06 1139.25,456.03 1139.99,456 1140.73,455.97 1141.47,455.94 1142.2,455.92 1142.94,455.89 1143.68,455.87 1144.42,455.85 1145.15,455.83 1145.89,455.81 1146.63,455.79 1147.36,455.77 1148.1,455.75 1148.84,455.74 1149.58,455.72 1150.31,455.71 1151.05,455.7 1151.79,455.68 1152.53,455.67 1153.26,455.66 1154,455.65 1154.74,455.64 1155.47,455.63 1156.21,455.62 1156.95,455.61 1157.69,455.61 1158.42,455.6 1159.16,455.59 1159.9,455.59 1160.64,455.58 1161.37,455.57 1162.11,455.57 1162.85,455.56 1163.59,455.56 1164.32,455.55 1165.06,455.55 1165.8,455.54 1166.53,455.54 1167.27,455.54 1168.01,455.53 1168.75,455.53 1169.48,455.53 1170.22,455.52 1170.96,455.52 1171.7,455.52 1172.43,455.52 1173.17,455.51 1173.91,455.51 1174.64,455.51 1175.38,455.51 1176.12,455.51 1176.86,455.51 1177.59,455.5 1178.33,455.5 1179.07,455.5 1179.81,455.5 1180.54,455.5 1181.28,455.5 1182.02,455.5 1182.75,455.49 1183.49,455.49 1184.23,455.49 1184.97,455.49 1185.7,455.49 1186.44,455.49 1187.18,455.49 1187.92,455.49 1188.65,455.49 1189.39,455.49 1190.13,455.49 1190.86,455.49 1191.6,455.49 1192.34,455.49 1193.08,455.49 1193.81,455.48 1194.55,455.48 1195.29,455.48 1196.03,455.48 1196.76,455.48 1197.5,455.48 1198.24,455.48 1198.97,455.48 1199.71,455.48 1200.45,455.48 1201.19,455.48 1201.92,455.48 1202.66,455.48 1203.4,455.48 1204.14,455.48 1204.87,455.48 1205.61,455.48 1206.35,455.48 1207.08,455.48 1207.82,455.48 1208.56,455.48 1209.3,455.48 1210.03,455.48 1210.77,455.48 1211.51,455.48 1212.25,455.48 1212.98,455.48 1213.72,455.48 1214.46,455.48 1215.2,455.48 1215.93,455.48 1216.67,455.48 1217.41,455.48 1218.14,455.48 1218.88,455.48 1219.62,455.48 1220.36,455.48 1221.09,455.48 1221.83,455.48 1222.57,455.48 1223.31,455.48 1224.04,455.48 1224.78,455.48 1225.52,455.48 1226.25,455.48 1226.99,455.48 1227.73,455.48 1228.47,455.48 1229.2,455.48 1229.94,455.48 1230.68,455.48 1231.42,455.48 1232.15,455.48 1232.89,455.48 1233.63,455.48 1234.36,455.48 1235.1,455.48 1235.84,455.48 1236.58,455.48 1237.31,455.48 1238.05,455.48 1238.79,455.48 1239.53,455.48 1240.26,455.48 1241,455.48 1241.74,455.48 1242.47,455.48 1243.21,455.48 1243.95,455.48 1244.69,455.48 1245.42,455.48 1246.16,455.48 1246.9,455.48 1247.64,455.48 1248.37,455.48 1249.11,455.48 1249.85,455.48 1250.58,455.48 1251.32,455.48 1252.06,455.48 1252.8,455.48 1253.53,455.48 1254.27,455.48 1255.01,455.48 1255.75,455.48 1256.48,455.48 1257.22,455.48 1257.96,455.48 1258.7,455.48 1259.43,455.48 1260.17,455.48 1260.91,455.48 1261.64,455.48 1262.38,455.48 1263.12,455.48 1263.86,455.48 1264.59,455.48 1265.33,455.48 1266.07,455.48 1266.81,455.48 1267.54,455.48 1268.28,455.48 1269.02,455.48 1269.75,455.48 1270.49,455.48 1271.23,455.48 1271.97,455.48 1272.7,455.48 1273.44,455.48 1274.18,455.48 1274.92,455.48 1275.65,455.48 1276.39,455.48 1277.13,455.48 1277.86,455.48 1278.6,455.48 1279.34,455.48 1280.08,455.48 1280.81,455.48 1281.55,455.48 1282.29,455.48 1283.03,455.48 1283.76,455.48 1284.5,455.48 1285.24,455.48 1285.97,455.48 1286.71,455.48 1287.45,455.48 1288.19,455.48 1288.92,455.48 1289.66,455.48 1290.4,455.48 1291.14,455.48 1291.87,455.48 1292.61,455.48 1293.35,455.48 1294.08,455.48 1294.82,455.48 1295.56,455.48 1296.3,455.48 1297.03,455.48 1297.77,455.48 1298.51,455.48 1299.25,455.48 1299.98,455.48 1300.72,455.48 1301.46,455.48 1302.19,455.48 1302.93,455.48 1303.67,455.48 1304.41,455.48 1305.14,455.48 1305.88,455.48 1306.62,455.48 1307.36,455.48 1308.09,455.48 1308.83,455.48 1309.57,455.48 1310.31,455.48 1311.04,455.48 1311.78,455.48 1312.52,455.48 1313.25,455.48 1313.99,455.48 1314.73,455.48 1315.47,455.48 1316.2,455.48 1316.94,455.48 1317.68,455.48 1318.42,455.48 1319.15,455.48 1319.89,455.48 1320.63,455.48 1321.36,455.48 1322.1,455.48 1322.84,455.48 1323.58,455.48 1324.31,455.48 1325.05,455.48 1325.79,455.48 1326.53,455.48 1327.26,455.48 1328,455.48" fill="none" stroke="#7808D8" stroke-width="4.1" stroke-linejoin="round" stroke-linecap="butt" clip-path="url(#c3)"/>
<text transform="translate(1073.1 33.8) scale(1 1.025)" font-size="30.25" text-anchor="middle" font-weight="bold" fill="#141414">Complementary Sensitivity (Magnitude)</text>
<text transform="translate(1073 345.7) scale(1 1.025)" font-size="30.25" text-anchor="middle" font-weight="bold" fill="#141414">Sensitivity (Magnitude)</text>
<text transform="translate(1074 304.7) scale(1 1.025)" font-size="30.25" text-anchor="middle" fill="#303030">Frequency (rad/s)</text>
<text transform="translate(1074 625.1) scale(1 1.025)" font-size="30.25" text-anchor="middle" fill="#303030">Frequency (rad/s)</text>
<text transform="translate(737.9 156.05) rotate(-90) scale(1 1.025)" font-size="30.25" text-anchor="middle" fill="#303030">Magnitude (dB)</text>
<text transform="translate(737.9 475.8) rotate(-90) scale(1 1.025)" font-size="30.25" text-anchor="middle" fill="#303030">Magnitude (dB)</text>
<text transform="translate(1074.4 258.9) scale(1 1.025)" font-size="27.5" text-anchor="middle" fill="#303030">10<tspan font-size="19.25" dy="-10">0</tspan></text>
<text transform="translate(875.8 578.7) scale(1 1.025)" font-size="27.5" text-anchor="middle" fill="#303030">10<tspan font-size="19.25" dy="-10">-5</tspan></text>
<text transform="translate(1158.8 578.7) scale(1 1.025)" font-size="27.5" text-anchor="middle" fill="#303030">10<tspan font-size="19.25" dy="-10">0</tspan></text>
<path d="M1636.3 540.9V535.9M1636.3 93.9V98.9M1789.6 540.9V535.9M1789.6 93.9V98.9M1942.9 540.9V535.9M1942.9 93.9V98.9M1491 495.6H1496M2000.2 495.6H1995.2M1491 438.05H1496M2000.2 438.05H1995.2M1491 380.5H1496M2000.2 380.5H1995.2M1491 322.95H1496M2000.2 322.95H1995.2M1491 265.4H1496M2000.2 265.4H1995.2M1491 207.85H1496M2000.2 207.85H1995.2M1491 150.3H1496M2000.2 150.3H1995.2" stroke="#424242" stroke-width="1.5" fill="none"/>
<rect x="1491" y="93.9" width="509.2" height="447" fill="none" stroke="#424242" stroke-width="1.5"/>
<polyline points="1491.4,483.73 1492.43,484.07 1493.46,484.39 1494.48,484.71 1495.51,485.01 1496.54,485.31 1497.57,485.6 1498.59,485.88 1499.62,486.16 1500.65,486.42 1501.68,486.68 1502.7,486.93 1503.73,487.18 1504.76,487.41 1505.79,487.64 1506.82,487.87 1507.84,488.08 1508.87,488.3 1509.9,488.5 1510.93,488.7 1511.95,488.9 1512.98,489.08 1514.01,489.27 1515.04,489.45 1516.06,489.62 1517.09,489.79 1518.12,489.95 1519.15,490.11 1520.18,490.26 1521.2,490.41 1522.23,490.56 1523.26,490.7 1524.29,490.84 1525.31,490.97 1526.34,491.1 1527.37,491.23 1528.4,491.35 1529.42,491.47 1530.45,491.59 1531.48,491.7 1532.51,491.81 1533.54,491.92 1534.56,492.02 1535.59,492.12 1536.62,492.22 1537.65,492.32 1538.67,492.41 1539.7,492.5 1540.73,492.59 1541.76,492.67 1542.78,492.75 1543.81,492.83 1544.84,492.91 1545.87,492.99 1546.9,493.06 1547.92,493.13 1548.95,493.2 1549.98,493.27 1551.01,493.33 1552.03,493.4 1553.06,493.46 1554.09,493.52 1555.12,493.58 1556.14,493.64 1557.17,493.69 1558.2,493.74 1559.23,493.8 1560.26,493.85 1561.28,493.9 1562.31,493.94 1563.34,493.99 1564.37,494.04 1565.39,494.08 1566.42,494.12 1567.45,494.16 1568.48,494.21 1569.5,494.24 1570.53,494.28 1571.56,494.32 1572.59,494.36 1573.62,494.39 1574.64,494.42 1575.67,494.46 1576.7,494.49 1577.73,494.52 1578.75,494.55 1579.78,494.58 1580.81,494.61 1581.84,494.64 1582.86,494.66 1583.89,494.69 1584.92,494.72 1585.95,494.74 1586.98,494.77 1588,494.79 1589.03,494.81 1590.06,494.83 1591.09,494.86 1592.11,494.88 1593.14,494.9 1594.17,494.92 1595.2,494.94 1596.22,494.95 1597.25,494.97 1598.28,494.99 1599.31,495.01 1600.34,495.02 1601.36,495.04 1602.39,495.06 1603.42,495.07 1604.45,495.09 1605.47,495.1 1606.5,495.11 1607.53,495.13 1608.56,495.14 1609.58,495.15 1610.61,495.17 1611.64,495.18 1612.67,495.19 1613.7,495.2 1614.72,495.21 1615.75,495.22 1616.78,495.24 1617.81,495.25 1618.83,495.26 1619.86,495.27 1620.89,495.27 1621.92,495.28 1622.95,495.29 1623.97,495.3 1625,495.31 1626.03,495.32 1627.06,495.33 1628.08,495.33 1629.11,495.34 1630.14,495.35 1631.17,495.36 1632.19,495.36 1633.22,495.37 1634.25,495.38 1635.28,495.38 1636.31,495.39 1637.33,495.39 1638.36,495.4 1639.39,495.41 1640.42,495.41 1641.44,495.42 1642.47,495.42 1643.5,495.43 1644.53,495.43 1645.55,495.44 1646.58,495.44 1647.61,495.45 1648.64,495.45 1649.67,495.45 1650.69,495.46 1651.72,495.46 1652.75,495.47 1653.78,495.47 1654.8,495.47 1655.83,495.48 1656.86,495.48 1657.89,495.48 1658.91,495.49 1659.94,495.49 1660.97,495.49 1662,495.5 1663.03,495.5 1664.05,495.5 1665.08,495.5 1666.11,495.51 1667.14,495.51 1668.16,495.51 1669.19,495.51 1670.22,495.52 1671.25,495.52 1672.27,495.52 1673.3,495.52 1674.33,495.53 1675.36,495.53 1676.39,495.53 1677.41,495.53 1678.44,495.53 1679.47,495.54 1680.5,495.54 1681.52,495.54 1682.55,495.54 1683.58,495.54 1684.61,495.54 1685.63,495.55 1686.66,495.55 1687.69,495.55 1688.72,495.55 1689.75,495.55 1690.77,495.55 1691.8,495.55 1692.83,495.56 1693.86,495.56 1694.88,495.56 1695.91,495.56 1696.94,495.56 1697.97,495.56 1698.99,495.56 1700.02,495.56 1701.05,495.56 1702.08,495.57 1703.11,495.57 1704.13,495.57 1705.16,495.57 1706.19,495.57 1707.22,495.57 1708.24,495.57 1709.27,495.57 1710.3,495.57 1711.33,495.57 1712.35,495.57 1713.38,495.58 1714.41,495.58 1715.44,495.58 1716.47,495.58 1717.49,495.58 1718.52,495.58 1719.55,495.58 1720.58,495.58 1721.6,495.58 1722.63,495.58 1723.66,495.58 1724.69,495.58 1725.71,495.58 1726.74,495.58 1727.77,495.58 1728.8,495.58 1729.83,495.58 1730.85,495.58 1731.88,495.59 1732.91,495.59 1733.94,495.59 1734.96,495.59 1735.99,495.59 1737.02,495.59 1738.05,495.59 1739.07,495.59 1740.1,495.59 1741.13,495.59 1742.16,495.59 1743.19,495.59 1744.21,495.59 1745.24,495.59 1746.27,495.59 1747.3,495.59 1748.32,495.59 1749.35,495.59 1750.38,495.59 1751.41,495.59 1752.43,495.59 1753.46,495.59 1754.49,495.59 1755.52,495.59 1756.55,495.59 1757.57,495.59 1758.6,495.59 1759.63,495.59 1760.66,495.59 1761.68,495.59 1762.71,495.59 1763.74,495.59 1764.77,495.59 1765.79,495.59 1766.82,495.59 1767.85,495.59 1768.88,495.59 1769.91,495.59 1770.93,495.59 1771.96,495.6 1772.99,495.6 1774.02,495.6 1775.04,495.6 1776.07,495.6 1777.1,495.6 1778.13,495.6 1779.15,495.6 1780.18,495.6 1781.21,495.6 1782.24,495.6 1783.27,495.6 1784.29,495.6 1785.32,495.6 1786.35,495.6 1787.38,495.6 1788.4,495.6 1789.43,495.6 1790.46,495.6 1791.49,495.6 1792.51,495.6 1793.54,495.6 1794.57,495.6 1795.6,495.6 1796.63,495.6 1797.65,495.6 1798.68,495.6 1799.71,495.6 1800.74,495.6 1801.76,495.6 1802.79,495.6 1803.82,495.6 1804.85,495.6 1805.87,495.6 1806.9,495.6 1807.93,495.6 1808.96,495.6 1809.99,495.6 1811.01,495.6 1812.04,495.6 1813.07,495.6 1814.1,495.6 1815.12,495.6 1816.15,495.6 1817.18,495.6 1818.21,495.6 1819.23,495.6 1820.26,495.6 1821.29,495.6 1822.32,495.6 1823.35,495.6 1824.37,495.6 1825.4,495.6 1826.43,495.6 1827.46,495.6 1828.48,495.6 1829.51,495.6 1830.54,495.6 1831.57,495.6 1832.59,495.6 1833.62,495.6 1834.65,495.6 1835.68,495.6 1836.71,495.6 1837.73,495.6 1838.76,495.6 1839.79,495.6 1840.82,495.6 1841.84,495.6 1842.87,495.6 1843.9,495.6 1844.93,495.6 1845.95,495.6 1846.98,495.6 1848.01,495.6 1849.04,495.6 1850.07,495.6 1851.09,495.6 1852.12,495.6 1853.15,495.6 1854.18,495.6 1855.2,495.6 1856.23,495.6 1857.26,495.6 1858.29,495.6 1859.31,495.6 1860.34,495.6 1861.37,495.6 1862.4,495.6 1863.43,495.6 1864.45,495.6 1865.48,495.6 1866.51,495.6 1867.54,495.6 1868.56,495.6 1869.59,495.6 1870.62,495.6 1871.65,495.6 1872.67,495.6 1873.7,495.6 1874.73,495.6 1875.76,495.6 1876.79,495.6 1877.81,495.6 1878.84,495.6 1879.87,495.6 1880.9,495.6 1881.92,495.6 1882.95,495.6 1883.98,495.6 1885.01,495.6 1886.04,495.6 1887.06,495.6 1888.09,495.6 1889.12,495.6 1890.15,495.6 1891.17,495.6 1892.2,495.6 1893.23,495.6 1894.26,495.6 1895.28,495.6 1896.31,495.6 1897.34,495.6 1898.37,495.6 1899.4,495.6 1900.42,495.6 1901.45,495.6 1902.48,495.6 1903.51,495.6 1904.53,495.6 1905.56,495.6 1906.59,495.6 1907.62,495.6 1908.64,495.6 1909.67,495.6 1910.7,495.6 1911.73,495.6 1912.76,495.6 1913.78,495.6 1914.81,495.6 1915.84,495.6 1916.87,495.6 1917.89,495.6 1918.92,495.6 1919.95,495.6 1920.98,495.6 1922,495.6 1923.03,495.6 1924.06,495.6 1925.09,495.6 1926.12,495.6 1927.14,495.6 1928.17,495.6 1929.2,495.6 1930.23,495.6 1931.25,495.6 1932.28,495.6 1933.31,495.6 1934.34,495.6 1935.36,495.6 1936.39,495.6 1937.42,495.6 1938.45,495.6 1939.48,495.6 1940.5,495.6 1941.53,495.6 1942.56,495.6 1943.59,495.6 1944.61,495.6 1945.64,495.6 1946.67,495.6 1947.7,495.6 1948.72,495.6 1949.75,495.6 1950.78,495.6 1951.81,495.6 1952.84,495.6 1953.86,495.6 1954.89,495.6 1955.92,495.6 1956.95,495.6 1957.97,495.6 1959,495.6 1960.03,495.6 1961.06,495.6 1962.08,495.6 1963.11,495.6 1964.14,495.6 1965.17,495.6 1966.2,495.6 1967.22,495.6 1968.25,495.6 1969.28,495.6 1970.31,495.6 1971.33,495.6 1972.36,495.6 1973.39,495.6 1974.42,495.6 1975.44,495.6 1976.47,495.6 1977.5,495.6 1978.53,495.6 1979.56,495.6 1980.58,495.6 1981.61,495.6 1982.64,495.6 1983.67,495.6 1984.69,495.6 1985.72,495.6 1986.75,495.6 1987.78,495.6 1988.8,495.6 1989.83,495.6 1990.86,495.6 1991.89,495.6 1992.92,495.6 1993.94,495.6 1994.97,495.6 1996,495.6 1997.03,495.6 1998.05,495.6 1999.08,495.6 2000.11,495.6 2001.14,495.6 2002.16,495.6 2003.19,495.6 2004.22,495.6" fill="none" stroke="#0068B8" stroke-width="4.1" stroke-linejoin="round" stroke-linecap="butt" clip-path="url(#c4)"/>
<polyline points="1491.4,216 1492.43,225.32 1493.46,234.34 1494.48,243.05 1495.51,251.47 1496.54,259.61 1497.57,267.48 1498.59,275.09 1499.62,282.44 1500.65,289.55 1501.68,296.42 1502.7,303.07 1503.73,309.49 1504.76,315.69 1505.79,321.69 1506.82,327.49 1507.84,333.1 1508.87,338.52 1509.9,343.76 1510.93,348.82 1511.95,353.72 1512.98,358.45 1514.01,363.02 1515.04,367.44 1516.06,371.72 1517.09,375.85 1518.12,379.84 1519.15,383.7 1520.18,387.43 1521.2,391.04 1522.23,394.53 1523.26,397.9 1524.29,401.16 1525.31,404.31 1526.34,407.35 1527.37,410.29 1528.4,413.14 1529.42,415.89 1530.45,418.55 1531.48,421.12 1532.51,423.6 1533.54,426 1534.56,428.32 1535.59,430.57 1536.62,432.73 1537.65,434.83 1538.67,436.86 1539.7,438.82 1540.73,440.71 1541.76,442.54 1542.78,444.31 1543.81,446.02 1544.84,447.67 1545.87,449.27 1546.9,450.82 1547.92,452.31 1548.95,453.75 1549.98,455.15 1551.01,456.5 1552.03,457.8 1553.06,459.06 1554.09,460.28 1555.12,461.46 1556.14,462.6 1557.17,463.7 1558.2,464.76 1559.23,465.79 1560.26,466.78 1561.28,467.75 1562.31,468.67 1563.34,469.57 1564.37,470.44 1565.39,471.28 1566.42,472.09 1567.45,472.87 1568.48,473.63 1569.5,474.37 1570.53,475.07 1571.56,475.76 1572.59,476.42 1573.62,477.06 1574.64,477.68 1575.67,478.28 1576.7,478.85 1577.73,479.41 1578.75,479.95 1579.78,480.47 1580.81,480.98 1581.84,481.47 1582.86,481.94 1583.89,482.39 1584.92,482.83 1585.95,483.26 1586.98,483.67 1588,484.07 1589.03,484.45 1590.06,484.82 1591.09,485.18 1592.11,485.53 1593.14,485.87 1594.17,486.19 1595.2,486.51 1596.22,486.81 1597.25,487.1 1598.28,487.39 1599.31,487.66 1600.34,487.92 1601.36,488.18 1602.39,488.43 1603.42,488.67 1604.45,488.9 1605.47,489.12 1606.5,489.34 1607.53,489.55 1608.56,489.75 1609.58,489.94 1610.61,490.13 1611.64,490.31 1612.67,490.49 1613.7,490.66 1614.72,490.83 1615.75,490.98 1616.78,491.14 1617.81,491.29 1618.83,491.43 1619.86,491.57 1620.89,491.7 1621.92,491.83 1622.95,491.96 1623.97,492.08 1625,492.2 1626.03,492.31 1627.06,492.42 1628.08,492.53 1629.11,492.63 1630.14,492.73 1631.17,492.83 1632.19,492.92 1633.22,493.01 1634.25,493.09 1635.28,493.18 1636.31,493.26 1637.33,493.34 1638.36,493.41 1639.39,493.48 1640.42,493.56 1641.44,493.62 1642.47,493.69 1643.5,493.75 1644.53,493.81 1645.55,493.87 1646.58,493.93 1647.61,493.99 1648.64,494.04 1649.67,494.09 1650.69,494.14 1651.72,494.19 1652.75,494.24 1653.78,494.28 1654.8,494.33 1655.83,494.37 1656.86,494.41 1657.89,494.45 1658.91,494.49 1659.94,494.53 1660.97,494.56 1662,494.6 1663.03,494.63 1664.05,494.66 1665.08,494.69 1666.11,494.72 1667.14,494.75 1668.16,494.78 1669.19,494.81 1670.22,494.84 1671.25,494.86 1672.27,494.89 1673.3,494.91 1674.33,494.93 1675.36,494.95 1676.39,494.98 1677.41,495 1678.44,495.02 1679.47,495.04 1680.5,495.06 1681.52,495.07 1682.55,495.09 1683.58,495.11 1684.61,495.12 1685.63,495.14 1686.66,495.16 1687.69,495.17 1688.72,495.18 1689.75,495.2 1690.77,495.21 1691.8,495.22 1692.83,495.24 1693.86,495.25 1694.88,495.26 1695.91,495.27 1696.94,495.28 1697.97,495.29 1698.99,495.3 1700.02,495.31 1701.05,495.32 1702.08,495.33 1703.11,495.34 1704.13,495.35 1705.16,495.36 1706.19,495.37 1707.22,495.37 1708.24,495.38 1709.27,495.39 1710.3,495.4 1711.33,495.4 1712.35,495.41 1713.38,495.42 1714.41,495.42 1715.44,495.43 1716.47,495.43 1717.49,495.44 1718.52,495.44 1719.55,495.45 1720.58,495.45 1721.6,495.46 1722.63,495.46 1723.66,495.47 1724.69,495.47 1725.71,495.48 1726.74,495.48 1727.77,495.49 1728.8,495.49 1729.83,495.49 1730.85,495.5 1731.88,495.5 1732.91,495.5 1733.94,495.51 1734.96,495.51 1735.99,495.51 1737.02,495.52 1738.05,495.52 1739.07,495.52 1740.1,495.52 1741.13,495.53 1742.16,495.53 1743.19,495.53 1744.21,495.53 1745.24,495.54 1746.27,495.54 1747.3,495.54 1748.32,495.54 1749.35,495.54 1750.38,495.55 1751.41,495.55 1752.43,495.55 1753.46,495.55 1754.49,495.55 1755.52,495.55 1756.55,495.56 1757.57,495.56 1758.6,495.56 1759.63,495.56 1760.66,495.56 1761.68,495.56 1762.71,495.56 1763.74,495.57 1764.77,495.57 1765.79,495.57 1766.82,495.57 1767.85,495.57 1768.88,495.57 1769.91,495.57 1770.93,495.57 1771.96,495.57 1772.99,495.57 1774.02,495.58 1775.04,495.58 1776.07,495.58 1777.1,495.58 1778.13,495.58 1779.15,495.58 1780.18,495.58 1781.21,495.58 1782.24,495.58 1783.27,495.58 1784.29,495.58 1785.32,495.58 1786.35,495.58 1787.38,495.58 1788.4,495.58 1789.43,495.59 1790.46,495.59 1791.49,495.59 1792.51,495.59 1793.54,495.59 1794.57,495.59 1795.6,495.59 1796.63,495.59 1797.65,495.59 1798.68,495.59 1799.71,495.59 1800.74,495.59 1801.76,495.59 1802.79,495.59 1803.82,495.59 1804.85,495.59 1805.87,495.59 1806.9,495.59 1807.93,495.59 1808.96,495.59 1809.99,495.59 1811.01,495.59 1812.04,495.59 1813.07,495.59 1814.1,495.59 1815.12,495.59 1816.15,495.59 1817.18,495.59 1818.21,495.59 1819.23,495.59 1820.26,495.59 1821.29,495.59 1822.32,495.59 1823.35,495.6 1824.37,495.6 1825.4,495.6 1826.43,495.6 1827.46,495.6 1828.48,495.6 1829.51,495.6 1830.54,495.6 1831.57,495.6 1832.59,495.6 1833.62,495.6 1834.65,495.6 1835.68,495.6 1836.71,495.6 1837.73,495.6 1838.76,495.6 1839.79,495.6 1840.82,495.6 1841.84,495.6 1842.87,495.6 1843.9,495.6 1844.93,495.6 1845.95,495.6 1846.98,495.6 1848.01,495.6 1849.04,495.6 1850.07,495.6 1851.09,495.6 1852.12,495.6 1853.15,495.6 1854.18,495.6 1855.2,495.6 1856.23,495.6 1857.26,495.6 1858.29,495.6 1859.31,495.6 1860.34,495.6 1861.37,495.6 1862.4,495.6 1863.43,495.6 1864.45,495.6 1865.48,495.6 1866.51,495.6 1867.54,495.6 1868.56,495.6 1869.59,495.6 1870.62,495.6 1871.65,495.6 1872.67,495.6 1873.7,495.6 1874.73,495.6 1875.76,495.6 1876.79,495.6 1877.81,495.6 1878.84,495.6 1879.87,495.6 1880.9,495.6 1881.92,495.6 1882.95,495.6 1883.98,495.6 1885.01,495.6 1886.04,495.6 1887.06,495.6 1888.09,495.6 1889.12,495.6 1890.15,495.6 1891.17,495.6 1892.2,495.6 1893.23,495.6 1894.26,495.6 1895.28,495.6 1896.31,495.6 1897.34,495.6 1898.37,495.6 1899.4,495.6 1900.42,495.6 1901.45,495.6 1902.48,495.6 1903.51,495.6 1904.53,495.6 1905.56,495.6 1906.59,495.6 1907.62,495.6 1908.64,495.6 1909.67,495.6 1910.7,495.6 1911.73,495.6 1912.76,495.6 1913.78,495.6 1914.81,495.6 1915.84,495.6 1916.87,495.6 1917.89,495.6 1918.92,495.6 1919.95,495.6 1920.98,495.6 1922,495.6 1923.03,495.6 1924.06,495.6 1925.09,495.6 1926.12,495.6 1927.14,495.6 1928.17,495.6 1929.2,495.6 1930.23,495.6 1931.25,495.6 1932.28,495.6 1933.31,495.6 1934.34,495.6 1935.36,495.6 1936.39,495.6 1937.42,495.6 1938.45,495.6 1939.48,495.6 1940.5,495.6 1941.53,495.6 1942.56,495.6 1943.59,495.6 1944.61,495.6 1945.64,495.6 1946.67,495.6 1947.7,495.6 1948.72,495.6 1949.75,495.6 1950.78,495.6 1951.81,495.6 1952.84,495.6 1953.86,495.6 1954.89,495.6 1955.92,495.6 1956.95,495.6 1957.97,495.6 1959,495.6 1960.03,495.6 1961.06,495.6 1962.08,495.6 1963.11,495.6 1964.14,495.6 1965.17,495.6 1966.2,495.6 1967.22,495.6 1968.25,495.6 1969.28,495.6 1970.31,495.6 1971.33,495.6 1972.36,495.6 1973.39,495.6 1974.42,495.6 1975.44,495.6 1976.47,495.6 1977.5,495.6 1978.53,495.6 1979.56,495.6 1980.58,495.6 1981.61,495.6 1982.64,495.6 1983.67,495.6 1984.69,495.6 1985.72,495.6 1986.75,495.6 1987.78,495.6 1988.8,495.6 1989.83,495.6 1990.86,495.6 1991.89,495.6 1992.92,495.6 1993.94,495.6 1994.97,495.6 1996,495.6 1997.03,495.6 1998.05,495.6 1999.08,495.6 2000.11,495.6 2001.14,495.6 2002.16,495.6 2003.19,495.6 2004.22,495.6" fill="none" stroke="#DA4F0E" stroke-width="4.1" stroke-linejoin="round" stroke-linecap="butt" clip-path="url(#c4)"/>
<line x1="1491" y1="496.2" x2="2000.2" y2="496.2" stroke="#EBAB18" stroke-width="6.2" clip-path="url(#c4)"/>
<line x1="1491" y1="495.6" x2="2000.2" y2="495.6" stroke="#7808D8" stroke-width="4.1" clip-path="url(#c4)"/>
<text transform="translate(1480.8 505.35) scale(1 1.025)" font-size="27.5" text-anchor="end" fill="#303030">0</text>
<text transform="translate(1480.8 447.8) scale(1 1.025)" font-size="27.5" text-anchor="end" fill="#303030">1</text>
<text transform="translate(1480.8 390.25) scale(1 1.025)" font-size="27.5" text-anchor="end" fill="#303030">2</text>
<text transform="translate(1480.8 332.7) scale(1 1.025)" font-size="27.5" text-anchor="end" fill="#303030">3</text>
<text transform="translate(1480.8 275.15) scale(1 1.025)" font-size="27.5" text-anchor="end" fill="#303030">4</text>
<text transform="translate(1480.8 217.6) scale(1 1.025)" font-size="27.5" text-anchor="end" fill="#303030">5</text>
<text transform="translate(1480.8 160.05) scale(1 1.025)" font-size="27.5" text-anchor="end" fill="#303030">6</text>
<text transform="translate(1636.3 575) scale(1 1.025)" font-size="27.5" text-anchor="middle" fill="#303030">0.05</text>
<text transform="translate(1789.6 575) scale(1 1.025)" font-size="27.5" text-anchor="middle" fill="#303030">0.1</text>
<text transform="translate(1942.9 575) scale(1 1.025)" font-size="27.5" text-anchor="middle" fill="#303030">0.15</text>
<text transform="translate(1745.6 32.5) scale(1 1.025)" font-size="30.25" text-anchor="middle" font-weight="bold" fill="#141414">Control Effort Step Response</text>
<text transform="translate(1745.9 617.2) scale(1 1.025)" font-size="30.25" text-anchor="middle" fill="#303030">Time (seconds)</text>
<text transform="translate(1412.1 317.5) rotate(-90) scale(1 1.025)" font-size="30.25" text-anchor="middle" fill="#303030">Amplitude</text>
<text transform="translate(1492.5 82.6) scale(1 1.025)" font-size="27.5" fill="#303030">×10<tspan font-size="19.25" dy="-10">4</tspan></text>
<rect x="1760.9" y="110.2" width="222.4" height="124.6" fill="#fff" stroke="#555" stroke-width="1.2"/>
<line x1="1767" y1="128.3" x2="1832" y2="128.3" stroke="#0068B8" stroke-width="4.1"/>
<text transform="translate(1836.6 137.2) scale(1 1.025)" font-size="26" fill="#141414">ZN-PID</text>
<line x1="1767" y1="157.7" x2="1832" y2="157.7" stroke="#DA4F0E" stroke-width="4.1"/>
<text transform="translate(1836.6 166.6) scale(1 1.025)" font-size="26" fill="#141414">GA-ISE-PID</text>
<line x1="1767" y1="187.7" x2="1832" y2="187.7" stroke="#EBAB18" stroke-width="5.5"/>
<text transform="translate(1836.6 196.6) scale(1 1.025)" font-size="26" fill="#141414">QFT</text>
<line x1="1767" y1="217.5" x2="1832" y2="217.5" stroke="#7808D8" stroke-width="4.1"/>
<text transform="translate(1836.6 226.4) scale(1 1.025)" font-size="26" fill="#141414">Proposed</text>
</svg>
</body></html>
